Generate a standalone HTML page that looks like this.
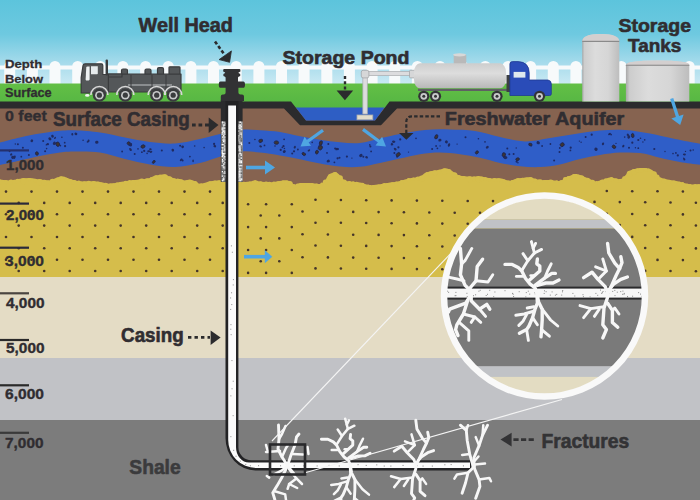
<!DOCTYPE html><html><head><meta charset="utf-8"><style>html,body{margin:0;padding:0;width:700px;height:500px;overflow:hidden;background:#7c7c7c}svg{display:block}text{font-family:"Liberation Sans",sans-serif;font-weight:bold;stroke-linejoin:round}</style></head><body>
<svg width="700" height="500" viewBox="0 0 700 500">
<defs>
<linearGradient id="sky" x1="0" y1="0" x2="0" y2="1"><stop offset="0" stop-color="#5cc4dc"/><stop offset="0.4" stop-color="#6ec9e0"/><stop offset="0.75" stop-color="#a9dcec"/><stop offset="1" stop-color="#cdebf4"/></linearGradient>
<linearGradient id="grass" x1="0" y1="0" x2="0" y2="1"><stop offset="0" stop-color="#63bf45"/><stop offset="1" stop-color="#52b443"/></linearGradient>
<linearGradient id="tank" x1="0" y1="0" x2="1" y2="0"><stop offset="0" stop-color="#a8a8a8"/><stop offset="0.06" stop-color="#cdcdcd"/><stop offset="0.35" stop-color="#dcdcdc"/><stop offset="0.7" stop-color="#d6d6d6"/><stop offset="1" stop-color="#bdbdbd"/></linearGradient>
<linearGradient id="tanker" x1="0" y1="0" x2="0" y2="1"><stop offset="0" stop-color="#cdcdcd"/><stop offset="0.4" stop-color="#dddddd"/><stop offset="1" stop-color="#b8b8b8"/></linearGradient>
<clipPath id="circ"><circle cx="544.5" cy="296" r="98"/></clipPath>
</defs>
<rect x="0" y="0" width="700" height="86" fill="url(#sky)"/>
<path d="M-18.4,86V66.5A5.5,5.5 0 0 1 -7.4,66.5V86ZM4.2,86V66.5A5.5,5.5 0 0 1 15.2,66.5V86ZM26.9,86V66.5A5.5,5.5 0 0 1 37.9,66.5V86ZM49.5,86V66.5A5.5,5.5 0 0 1 60.5,66.5V86ZM72.2,86V66.5A5.5,5.5 0 0 1 83.2,66.5V86ZM94.8,86V66.5A5.5,5.5 0 0 1 105.8,66.5V86ZM117.4,86V66.5A5.5,5.5 0 0 1 128.4,66.5V86ZM140.1,86V66.5A5.5,5.5 0 0 1 151.1,66.5V86ZM162.8,86V66.5A5.5,5.5 0 0 1 173.8,66.5V86ZM185.4,86V66.5A5.5,5.5 0 0 1 196.4,66.5V86ZM208.0,86V66.5A5.5,5.5 0 0 1 219.0,66.5V86ZM230.7,86V66.5A5.5,5.5 0 0 1 241.7,66.5V86ZM253.4,86V66.5A5.5,5.5 0 0 1 264.4,66.5V86ZM276.0,86V66.5A5.5,5.5 0 0 1 287.0,66.5V86ZM298.6,86V66.5A5.5,5.5 0 0 1 309.6,66.5V86ZM321.3,86V66.5A5.5,5.5 0 0 1 332.3,66.5V86ZM343.9,86V66.5A5.5,5.5 0 0 1 354.9,66.5V86ZM366.6,86V66.5A5.5,5.5 0 0 1 377.6,66.5V86ZM389.2,86V66.5A5.5,5.5 0 0 1 400.2,66.5V86ZM411.9,86V66.5A5.5,5.5 0 0 1 422.9,66.5V86ZM434.5,86V66.5A5.5,5.5 0 0 1 445.5,66.5V86ZM457.2,86V66.5A5.5,5.5 0 0 1 468.2,66.5V86ZM479.8,86V66.5A5.5,5.5 0 0 1 490.8,66.5V86ZM502.5,86V66.5A5.5,5.5 0 0 1 513.5,66.5V86ZM525.1,86V66.5A5.5,5.5 0 0 1 536.1,66.5V86ZM547.8,86V66.5A5.5,5.5 0 0 1 558.8,66.5V86ZM570.4,86V66.5A5.5,5.5 0 0 1 581.4,66.5V86ZM593.1,86V66.5A5.5,5.5 0 0 1 604.1,66.5V86ZM615.8,86V66.5A5.5,5.5 0 0 1 626.8,66.5V86ZM638.4,86V66.5A5.5,5.5 0 0 1 649.4,66.5V86ZM661.0,86V66.5A5.5,5.5 0 0 1 672.0,66.5V86ZM683.7,86V66.5A5.5,5.5 0 0 1 694.7,66.5V86ZM706.3,86V66.5A5.5,5.5 0 0 1 717.3,66.5V86Z" fill="#f7fafb"/>
<rect x="0" y="65.5" width="700" height="4" fill="#f7fafb"/>
<rect x="0" y="83.5" width="700" height="27" fill="url(#grass)"/>
<rect x="0" y="108" width="700" height="80" fill="#866350"/>
<rect x="0" y="277" width="700" height="81" fill="#e4dcc5"/>
<rect x="0" y="358" width="700" height="62" fill="#c1c2c6"/>
<rect x="0" y="420" width="700" height="80" fill="#7c7c7c"/>
<path d="M0,277 L0,179.6 C1.7,179.7 6.7,180.6 10.0,180.4 C13.3,180.2 16.7,179.1 20.0,178.7 C23.3,178.3 26.7,177.8 30.0,177.9 C33.3,178.1 36.7,179.2 40.0,179.6 C43.3,180.0 47.2,180.7 50.0,180.4 C52.8,180.1 54.8,178.2 57.0,177.6 C59.2,176.9 60.8,176.3 63.0,176.5 C65.2,176.7 67.2,178.2 70.0,179.0 C72.8,179.8 76.7,180.9 80.0,181.3 C83.3,181.7 86.7,181.2 90.0,181.3 C93.3,181.4 96.7,181.7 100.0,182.1 C103.3,182.5 106.7,183.9 110.0,183.9 C113.3,183.9 116.7,182.7 120.0,182.1 C123.3,181.5 126.7,180.8 130.0,180.4 C133.3,180.0 136.7,180.0 140.0,179.6 C143.3,179.2 147.5,178.6 150.0,177.9 C152.5,177.2 153.3,176.1 155.0,175.6 C156.7,175.1 158.3,175.1 160.0,174.9 C161.7,174.7 163.3,174.1 165.0,174.4 C166.7,174.7 168.3,176.0 170.0,176.7 C171.7,177.4 173.3,178.3 175.0,178.7 C176.7,179.1 178.3,178.7 180.0,179.0 C181.7,179.3 183.3,180.3 185.0,180.4 C186.7,180.5 188.3,179.4 190.0,179.6 C191.7,179.8 193.3,180.6 195.0,181.3 C196.7,182.0 198.3,183.6 200.0,183.9 C201.7,184.2 203.3,183.4 205.0,183.0 C206.7,182.6 207.5,181.7 210.0,181.3 C212.5,180.9 216.7,180.4 220.0,180.4 C223.3,180.4 226.7,181.2 230.0,181.5 C233.3,181.8 236.7,182.3 240.0,182.3 C243.3,182.3 247.5,181.8 250.0,181.4 C252.5,181.1 253.3,180.2 255.0,180.2 C256.7,180.2 257.5,181.1 260.0,181.4 C262.5,181.8 266.7,182.4 270.0,182.3 C273.3,182.2 277.5,181.2 280.0,180.9 C282.5,180.6 283.3,180.1 285.0,180.2 C286.7,180.3 288.3,180.6 290.0,181.4 C291.7,182.2 293.3,184.7 295.0,185.0 C296.7,185.3 297.5,183.4 300.0,183.1 C302.5,182.8 306.7,182.9 310.0,183.1 C313.3,183.2 317.5,184.4 320.0,184.0 C322.5,183.6 323.7,182.0 325.0,180.6 C326.3,179.2 326.8,176.7 328.0,175.4 C329.2,174.1 330.7,173.4 332.0,172.9 C333.3,172.4 334.7,171.9 336.0,172.3 C337.3,172.7 338.5,174.0 340.0,175.4 C341.5,176.8 343.3,179.6 345.0,180.6 C346.7,181.6 347.5,181.1 350.0,181.4 C352.5,181.7 356.7,181.9 360.0,182.5 C363.3,183.1 366.7,184.8 370.0,185.1 C373.3,185.4 376.7,184.7 380.0,184.3 C383.3,183.9 386.7,183.2 390.0,182.6 C393.3,182.0 396.7,181.6 400.0,180.9 C403.3,180.2 406.7,179.0 410.0,178.3 C413.3,177.6 417.5,177.5 420.0,176.6 C422.5,175.7 423.3,174.0 425.0,173.1 C426.7,172.2 428.0,171.9 430.0,171.4 C432.0,170.9 434.5,170.7 437.0,170.2 C439.5,169.7 442.8,168.6 445.0,168.5 C447.2,168.4 448.3,168.9 450.0,169.7 C451.7,170.5 453.3,172.1 455.0,173.1 C456.7,174.1 457.5,175.1 460.0,175.7 C462.5,176.3 466.7,176.4 470.0,176.6 C473.3,176.8 476.7,176.3 480.0,176.6 C483.3,176.9 486.7,178.0 490.0,178.3 C493.3,178.6 496.7,177.9 500.0,178.3 C503.3,178.7 507.5,180.8 510.0,180.9 C512.5,181.0 513.3,179.5 515.0,179.1 C516.7,178.7 517.5,178.6 520.0,178.3 C522.5,178.0 526.7,177.1 530.0,177.4 C533.3,177.7 536.7,179.6 540.0,180.0 C543.3,180.4 546.7,179.8 550.0,180.0 C553.3,180.2 557.5,181.3 560.0,180.9 C562.5,180.5 563.3,178.3 565.0,177.4 C566.7,176.5 568.3,176.3 570.0,175.7 C571.7,175.1 573.3,174.1 575.0,174.0 C576.7,173.9 577.5,174.1 580.0,174.9 C582.5,175.8 587.5,178.0 590.0,179.1 C592.5,180.2 592.5,181.7 595.0,181.7 C597.5,181.7 602.5,179.8 605.0,179.1 C607.5,178.4 607.5,177.4 610.0,177.4 C612.5,177.4 617.5,179.4 620.0,179.1 C622.5,178.8 623.3,177.1 625.0,175.7 C626.7,174.3 627.5,171.9 630.0,170.6 C632.5,169.3 636.7,168.3 640.0,168.0 C643.3,167.7 647.5,168.2 650.0,168.9 C652.5,169.6 653.3,170.9 655.0,172.3 C656.7,173.7 657.5,176.1 660.0,177.4 C662.5,178.7 666.7,179.3 670.0,180.0 C673.3,180.7 676.7,181.0 680.0,181.7 C683.3,182.4 686.7,183.9 690.0,184.3 C693.3,184.7 698.3,184.3 700.0,184.3 L700,277Z" fill="#d5bd4b"/>
<g fill="#d5bd4b"><circle cx="0.0" cy="182.0" r="2.4"/><circle cx="5.9" cy="182.1" r="2.1"/><circle cx="11.0" cy="182.3" r="2.7"/><circle cx="14.1" cy="181.9" r="2.2"/><circle cx="17.8" cy="181.1" r="2.4"/><circle cx="23.4" cy="181.1" r="3.1"/><circle cx="29.4" cy="179.6" r="1.7"/><circle cx="35.0" cy="180.5" r="1.8"/><circle cx="39.7" cy="182.1" r="3.1"/><circle cx="44.3" cy="182.8" r="3.0"/><circle cx="48.2" cy="182.0" r="1.7"/><circle cx="52.6" cy="181.9" r="3.2"/><circle cx="58.1" cy="180.4" r="2.9"/><circle cx="61.1" cy="178.5" r="2.2"/><circle cx="66.4" cy="180.0" r="2.2"/><circle cx="70.5" cy="182.0" r="2.8"/><circle cx="74.2" cy="182.6" r="2.5"/><circle cx="78.8" cy="182.8" r="2.2"/><circle cx="84.2" cy="183.1" r="1.9"/><circle cx="88.8" cy="183.3" r="2.5"/><circle cx="93.8" cy="184.2" r="3.1"/><circle cx="97.8" cy="184.7" r="3.1"/><circle cx="101.6" cy="184.0" r="1.6"/><circle cx="105.7" cy="185.1" r="2.3"/><circle cx="110.6" cy="186.1" r="2.8"/><circle cx="113.8" cy="186.5" r="3.2"/><circle cx="116.9" cy="185.1" r="2.5"/><circle cx="121.1" cy="184.8" r="2.8"/><circle cx="125.8" cy="182.9" r="2.2"/><circle cx="129.6" cy="181.9" r="1.8"/><circle cx="133.2" cy="182.8" r="2.9"/><circle cx="138.6" cy="182.8" r="3.1"/><circle cx="141.8" cy="181.7" r="3.1"/><circle cx="147.1" cy="181.2" r="2.9"/><circle cx="151.3" cy="178.6" r="1.7"/><circle cx="156.2" cy="177.2" r="2.0"/><circle cx="160.0" cy="176.5" r="1.9"/><circle cx="165.2" cy="176.6" r="2.4"/><circle cx="169.7" cy="178.8" r="2.5"/><circle cx="174.0" cy="181.4" r="3.1"/><circle cx="177.7" cy="180.6" r="2.1"/><circle cx="181.8" cy="181.1" r="1.6"/><circle cx="186.5" cy="182.5" r="2.3"/><circle cx="190.5" cy="182.4" r="2.5"/><circle cx="195.1" cy="183.6" r="2.6"/><circle cx="201.1" cy="186.1" r="2.8"/><circle cx="205.2" cy="185.2" r="2.5"/><circle cx="209.8" cy="183.1" r="1.9"/><circle cx="214.9" cy="183.4" r="2.8"/><circle cx="219.2" cy="182.7" r="2.4"/><circle cx="223.6" cy="182.1" r="1.6"/><circle cx="229.6" cy="184.1" r="2.9"/><circle cx="234.8" cy="183.5" r="1.9"/><circle cx="239.4" cy="184.3" r="2.7"/><circle cx="243.8" cy="184.8" r="3.0"/><circle cx="249.8" cy="183.2" r="1.8"/><circle cx="255.3" cy="181.8" r="1.6"/><circle cx="260.6" cy="183.3" r="2.0"/><circle cx="266.1" cy="184.5" r="2.9"/><circle cx="269.3" cy="184.2" r="2.5"/><circle cx="273.9" cy="183.5" r="2.0"/><circle cx="278.6" cy="184.1" r="2.9"/><circle cx="282.8" cy="182.1" r="1.6"/><circle cx="286.8" cy="183.4" r="2.8"/><circle cx="289.9" cy="183.7" r="2.8"/><circle cx="293.9" cy="186.1" r="2.1"/><circle cx="297.6" cy="186.0" r="2.4"/><circle cx="301.0" cy="185.0" r="2.0"/><circle cx="304.9" cy="184.8" r="1.9"/><circle cx="308.5" cy="186.2" r="3.2"/><circle cx="312.0" cy="185.1" r="2.1"/><circle cx="316.6" cy="185.7" r="2.2"/><circle cx="321.9" cy="184.4" r="1.8"/><circle cx="325.3" cy="182.1" r="2.5"/><circle cx="330.8" cy="176.8" r="3.0"/><circle cx="335.0" cy="174.5" r="2.6"/><circle cx="340.1" cy="178.0" r="2.8"/><circle cx="344.1" cy="182.4" r="2.8"/><circle cx="349.5" cy="183.0" r="2.1"/><circle cx="353.2" cy="183.2" r="1.9"/><circle cx="356.6" cy="184.2" r="2.4"/><circle cx="362.3" cy="184.9" r="2.2"/><circle cx="368.1" cy="186.1" r="1.7"/><circle cx="373.3" cy="187.0" r="2.1"/><circle cx="378.6" cy="186.5" r="2.1"/><circle cx="384.3" cy="185.5" r="2.4"/><circle cx="387.7" cy="186.0" r="2.9"/><circle cx="392.6" cy="185.0" r="2.8"/><circle cx="396.3" cy="183.5" r="1.9"/><circle cx="401.8" cy="182.3" r="2.3"/><circle cx="405.1" cy="181.9" r="2.2"/><circle cx="408.7" cy="180.2" r="2.1"/><circle cx="413.4" cy="179.3" r="1.7"/><circle cx="417.9" cy="178.8" r="2.3"/><circle cx="421.8" cy="178.5" r="3.0"/><circle cx="427.0" cy="174.0" r="1.9"/><circle cx="431.1" cy="174.3" r="3.0"/><circle cx="434.8" cy="172.8" r="2.6"/><circle cx="439.2" cy="171.6" r="1.9"/><circle cx="444.5" cy="171.4" r="3.1"/><circle cx="448.9" cy="171.5" r="2.6"/><circle cx="454.5" cy="175.1" r="2.8"/><circle cx="458.7" cy="177.4" r="2.4"/><circle cx="463.8" cy="178.1" r="2.0"/><circle cx="469.6" cy="179.2" r="3.0"/><circle cx="474.0" cy="178.9" r="2.3"/><circle cx="478.4" cy="179.1" r="3.1"/><circle cx="481.5" cy="178.8" r="2.4"/><circle cx="485.3" cy="178.8" r="1.7"/><circle cx="489.6" cy="179.7" r="1.7"/><circle cx="494.4" cy="180.0" r="2.0"/><circle cx="498.6" cy="180.2" r="2.0"/><circle cx="503.9" cy="180.8" r="1.6"/><circle cx="508.5" cy="183.5" r="3.1"/><circle cx="512.3" cy="182.7" r="2.6"/><circle cx="518.2" cy="180.8" r="2.8"/><circle cx="522.3" cy="180.1" r="2.4"/><circle cx="527.6" cy="180.1" r="2.4"/><circle cx="530.6" cy="179.8" r="2.9"/><circle cx="535.2" cy="180.3" r="1.8"/><circle cx="540.0" cy="182.4" r="3.1"/><circle cx="544.2" cy="181.7" r="1.8"/><circle cx="547.6" cy="181.9" r="1.9"/><circle cx="550.7" cy="182.6" r="3.0"/><circle cx="556.7" cy="182.0" r="1.8"/><circle cx="561.2" cy="182.1" r="2.1"/><circle cx="565.1" cy="179.0" r="2.1"/><circle cx="568.3" cy="177.7" r="1.6"/><circle cx="574.0" cy="176.4" r="2.5"/><circle cx="578.3" cy="177.5" r="2.8"/><circle cx="581.6" cy="177.8" r="2.6"/><circle cx="587.4" cy="180.6" r="2.8"/><circle cx="592.4" cy="182.5" r="2.8"/><circle cx="596.4" cy="182.7" r="1.7"/><circle cx="602.2" cy="181.9" r="2.5"/><circle cx="606.0" cy="180.5" r="2.3"/><circle cx="611.5" cy="179.3" r="2.2"/><circle cx="616.0" cy="180.6" r="2.3"/><circle cx="619.8" cy="180.9" r="2.0"/><circle cx="624.0" cy="178.1" r="1.8"/><circle cx="629.6" cy="173.7" r="2.9"/><circle cx="634.0" cy="171.9" r="2.9"/><circle cx="637.3" cy="170.4" r="1.9"/><circle cx="641.0" cy="170.4" r="2.3"/><circle cx="645.8" cy="170.0" r="1.9"/><circle cx="648.8" cy="170.2" r="1.7"/><circle cx="654.0" cy="174.1" r="2.9"/><circle cx="657.1" cy="177.0" r="2.5"/><circle cx="660.2" cy="180.2" r="2.6"/><circle cx="664.1" cy="181.0" r="2.5"/><circle cx="669.1" cy="181.6" r="1.9"/><circle cx="673.9" cy="183.1" r="2.7"/><circle cx="679.4" cy="184.2" r="2.5"/><circle cx="682.7" cy="183.7" r="1.6"/><circle cx="687.2" cy="186.4" r="2.7"/><circle cx="690.2" cy="185.7" r="1.6"/><circle cx="695.2" cy="186.2" r="2.2"/><circle cx="698.8" cy="186.9" r="2.7"/></g>
<g fill="#45352a"><circle cx="6.0" cy="191.6" r="1.3"/><circle cx="18.7" cy="202.9" r="1.3"/><circle cx="31.5" cy="191.6" r="1.3"/><circle cx="44.2" cy="202.9" r="1.3"/><circle cx="57.0" cy="191.6" r="1.3"/><circle cx="69.7" cy="202.9" r="1.3"/><circle cx="82.5" cy="191.6" r="1.3"/><circle cx="95.2" cy="202.9" r="1.3"/><circle cx="108.0" cy="191.6" r="1.3"/><circle cx="120.7" cy="202.9" r="1.3"/><circle cx="133.5" cy="191.6" r="1.3"/><circle cx="146.2" cy="202.9" r="1.3"/><circle cx="159.0" cy="191.6" r="1.3"/><circle cx="171.7" cy="202.9" r="1.3"/><circle cx="184.5" cy="191.6" r="1.3"/><circle cx="197.2" cy="202.9" r="1.3"/><circle cx="210.0" cy="191.6" r="1.3"/><circle cx="222.7" cy="202.9" r="1.3"/><circle cx="6.0" cy="214.3" r="1.3"/><circle cx="18.7" cy="225.6" r="1.3"/><circle cx="31.5" cy="214.3" r="1.3"/><circle cx="44.2" cy="225.6" r="1.3"/><circle cx="57.0" cy="214.3" r="1.3"/><circle cx="69.7" cy="225.6" r="1.3"/><circle cx="82.5" cy="214.3" r="1.3"/><circle cx="95.2" cy="225.6" r="1.3"/><circle cx="108.0" cy="214.3" r="1.3"/><circle cx="120.7" cy="225.6" r="1.3"/><circle cx="133.5" cy="214.3" r="1.3"/><circle cx="146.2" cy="225.6" r="1.3"/><circle cx="159.0" cy="214.3" r="1.3"/><circle cx="171.7" cy="225.6" r="1.3"/><circle cx="184.5" cy="214.3" r="1.3"/><circle cx="197.2" cy="225.6" r="1.3"/><circle cx="210.0" cy="214.3" r="1.3"/><circle cx="222.7" cy="225.6" r="1.3"/><circle cx="6.0" cy="237.0" r="1.3"/><circle cx="18.7" cy="248.3" r="1.3"/><circle cx="31.5" cy="237.0" r="1.3"/><circle cx="44.2" cy="248.3" r="1.3"/><circle cx="57.0" cy="237.0" r="1.3"/><circle cx="69.7" cy="248.3" r="1.3"/><circle cx="82.5" cy="237.0" r="1.3"/><circle cx="95.2" cy="248.3" r="1.3"/><circle cx="108.0" cy="237.0" r="1.3"/><circle cx="120.7" cy="248.3" r="1.3"/><circle cx="133.5" cy="237.0" r="1.3"/><circle cx="146.2" cy="248.3" r="1.3"/><circle cx="159.0" cy="237.0" r="1.3"/><circle cx="171.7" cy="248.3" r="1.3"/><circle cx="184.5" cy="237.0" r="1.3"/><circle cx="197.2" cy="248.3" r="1.3"/><circle cx="210.0" cy="237.0" r="1.3"/><circle cx="222.7" cy="248.3" r="1.3"/><circle cx="6.0" cy="259.7" r="1.3"/><circle cx="18.7" cy="271.0" r="1.3"/><circle cx="31.5" cy="259.7" r="1.3"/><circle cx="44.2" cy="271.0" r="1.3"/><circle cx="57.0" cy="259.7" r="1.3"/><circle cx="69.7" cy="271.0" r="1.3"/><circle cx="82.5" cy="259.7" r="1.3"/><circle cx="95.2" cy="271.0" r="1.3"/><circle cx="108.0" cy="259.7" r="1.3"/><circle cx="120.7" cy="271.0" r="1.3"/><circle cx="133.5" cy="259.7" r="1.3"/><circle cx="146.2" cy="271.0" r="1.3"/><circle cx="159.0" cy="259.7" r="1.3"/><circle cx="171.7" cy="271.0" r="1.3"/><circle cx="184.5" cy="259.7" r="1.3"/><circle cx="197.2" cy="271.0" r="1.3"/><circle cx="210.0" cy="259.7" r="1.3"/><circle cx="222.7" cy="271.0" r="1.3"/><circle cx="248.1" cy="204.2" r="1.3"/><circle cx="266.1" cy="204.2" r="1.3"/><circle cx="291.8" cy="204.2" r="1.3"/><circle cx="248.1" cy="227.1" r="1.3"/><circle cx="266.1" cy="227.1" r="1.3"/><circle cx="291.8" cy="227.1" r="1.3"/><circle cx="248.1" cy="250.0" r="1.3"/><circle cx="266.1" cy="250.0" r="1.3"/><circle cx="291.8" cy="250.0" r="1.3"/><circle cx="248.1" cy="272.9" r="1.3"/><circle cx="266.1" cy="272.9" r="1.3"/><circle cx="291.8" cy="272.9" r="1.3"/><circle cx="260.7" cy="215.5" r="1.3"/><circle cx="279.3" cy="215.5" r="1.3"/><circle cx="260.7" cy="238.4" r="1.3"/><circle cx="279.3" cy="238.4" r="1.3"/><circle cx="260.7" cy="261.3" r="1.3"/><circle cx="279.3" cy="261.3" r="1.3"/><circle cx="606.8" cy="191.0" r="1.3"/><circle cx="632.2" cy="191.2" r="1.3"/><circle cx="657.5" cy="191.3" r="1.3"/><circle cx="682.9" cy="191.5" r="1.3"/><circle cx="315.5" cy="199.8" r="1.3"/><circle cx="302.5" cy="211.5" r="1.3"/><circle cx="340.9" cy="200.0" r="1.3"/><circle cx="327.9" cy="211.7" r="1.3"/><circle cx="366.2" cy="200.2" r="1.3"/><circle cx="353.2" cy="211.9" r="1.3"/><circle cx="391.6" cy="200.4" r="1.3"/><circle cx="378.6" cy="212.1" r="1.3"/><circle cx="416.9" cy="200.6" r="1.3"/><circle cx="403.9" cy="212.3" r="1.3"/><circle cx="442.3" cy="200.8" r="1.3"/><circle cx="429.3" cy="212.5" r="1.3"/><circle cx="467.7" cy="201.0" r="1.3"/><circle cx="454.7" cy="212.7" r="1.3"/><circle cx="493.0" cy="201.1" r="1.3"/><circle cx="480.0" cy="212.8" r="1.3"/><circle cx="518.4" cy="201.3" r="1.3"/><circle cx="505.4" cy="213.0" r="1.3"/><circle cx="543.7" cy="201.5" r="1.3"/><circle cx="530.7" cy="213.2" r="1.3"/><circle cx="569.1" cy="201.7" r="1.3"/><circle cx="556.1" cy="213.4" r="1.3"/><circle cx="594.5" cy="201.9" r="1.3"/><circle cx="581.5" cy="213.6" r="1.3"/><circle cx="619.8" cy="202.1" r="1.3"/><circle cx="606.8" cy="213.8" r="1.3"/><circle cx="645.2" cy="202.3" r="1.3"/><circle cx="632.2" cy="214.0" r="1.3"/><circle cx="670.5" cy="202.5" r="1.3"/><circle cx="657.5" cy="214.2" r="1.3"/><circle cx="695.9" cy="202.7" r="1.3"/><circle cx="682.9" cy="214.4" r="1.3"/><circle cx="315.5" cy="222.7" r="1.3"/><circle cx="302.5" cy="234.3" r="1.3"/><circle cx="340.9" cy="222.8" r="1.3"/><circle cx="327.9" cy="234.5" r="1.3"/><circle cx="366.2" cy="223.0" r="1.3"/><circle cx="353.2" cy="234.7" r="1.3"/><circle cx="391.6" cy="223.2" r="1.3"/><circle cx="378.6" cy="234.9" r="1.3"/><circle cx="416.9" cy="223.4" r="1.3"/><circle cx="403.9" cy="235.1" r="1.3"/><circle cx="442.3" cy="223.6" r="1.3"/><circle cx="429.3" cy="235.3" r="1.3"/><circle cx="467.7" cy="223.8" r="1.3"/><circle cx="454.7" cy="235.5" r="1.3"/><circle cx="493.0" cy="224.0" r="1.3"/><circle cx="480.0" cy="235.7" r="1.3"/><circle cx="518.4" cy="224.2" r="1.3"/><circle cx="505.4" cy="235.9" r="1.3"/><circle cx="543.7" cy="224.4" r="1.3"/><circle cx="530.7" cy="236.1" r="1.3"/><circle cx="569.1" cy="224.6" r="1.3"/><circle cx="556.1" cy="236.3" r="1.3"/><circle cx="594.5" cy="224.8" r="1.3"/><circle cx="581.5" cy="236.5" r="1.3"/><circle cx="619.8" cy="225.0" r="1.3"/><circle cx="606.8" cy="236.7" r="1.3"/><circle cx="645.2" cy="225.2" r="1.3"/><circle cx="632.2" cy="236.9" r="1.3"/><circle cx="670.5" cy="225.3" r="1.3"/><circle cx="657.5" cy="237.0" r="1.3"/><circle cx="695.9" cy="225.5" r="1.3"/><circle cx="682.9" cy="237.2" r="1.3"/><circle cx="315.5" cy="245.5" r="1.3"/><circle cx="302.5" cy="257.2" r="1.3"/><circle cx="340.9" cy="245.7" r="1.3"/><circle cx="327.9" cy="257.4" r="1.3"/><circle cx="366.2" cy="245.9" r="1.3"/><circle cx="353.2" cy="257.6" r="1.3"/><circle cx="391.6" cy="246.1" r="1.3"/><circle cx="378.6" cy="257.8" r="1.3"/><circle cx="416.9" cy="246.3" r="1.3"/><circle cx="403.9" cy="258.0" r="1.3"/><circle cx="442.3" cy="246.5" r="1.3"/><circle cx="429.3" cy="258.2" r="1.3"/><circle cx="467.7" cy="246.7" r="1.3"/><circle cx="454.7" cy="258.4" r="1.3"/><circle cx="493.0" cy="246.8" r="1.3"/><circle cx="480.0" cy="258.5" r="1.3"/><circle cx="518.4" cy="247.0" r="1.3"/><circle cx="505.4" cy="258.7" r="1.3"/><circle cx="543.7" cy="247.2" r="1.3"/><circle cx="530.7" cy="258.9" r="1.3"/><circle cx="569.1" cy="247.4" r="1.3"/><circle cx="556.1" cy="259.1" r="1.3"/><circle cx="594.5" cy="247.6" r="1.3"/><circle cx="581.5" cy="259.3" r="1.3"/><circle cx="619.8" cy="247.8" r="1.3"/><circle cx="606.8" cy="259.5" r="1.3"/><circle cx="645.2" cy="248.0" r="1.3"/><circle cx="632.2" cy="259.7" r="1.3"/><circle cx="670.5" cy="248.2" r="1.3"/><circle cx="657.5" cy="259.9" r="1.3"/><circle cx="695.9" cy="248.4" r="1.3"/><circle cx="682.9" cy="260.1" r="1.3"/><circle cx="315.5" cy="268.4" r="1.3"/><circle cx="340.9" cy="268.5" r="1.3"/><circle cx="366.2" cy="268.7" r="1.3"/><circle cx="391.6" cy="268.9" r="1.3"/><circle cx="416.9" cy="269.1" r="1.3"/><circle cx="442.3" cy="269.3" r="1.3"/><circle cx="467.7" cy="269.5" r="1.3"/><circle cx="493.0" cy="269.7" r="1.3"/><circle cx="518.4" cy="269.9" r="1.3"/><circle cx="543.7" cy="270.1" r="1.3"/><circle cx="569.1" cy="270.3" r="1.3"/><circle cx="594.5" cy="270.5" r="1.3"/><circle cx="619.8" cy="270.7" r="1.3"/><circle cx="645.2" cy="270.9" r="1.3"/><circle cx="670.5" cy="271.0" r="1.3"/><circle cx="695.9" cy="271.2" r="1.3"/></g>
<path d="M-2,143 C1.7,142.1 13.0,139.1 20.0,137.5 C27.0,135.9 33.3,134.6 40.0,133.5 C46.7,132.4 54.2,131.3 60.0,130.8 C65.8,130.3 68.3,130.0 75.0,130.3 C81.7,130.6 91.7,131.3 100.0,132.5 C108.3,133.7 116.7,135.9 125.0,137.5 C133.3,139.1 141.7,141.0 150.0,142.0 C158.3,143.0 166.7,144.0 175.0,143.5 C183.3,143.0 192.5,140.6 200.0,139.0 C207.5,137.4 213.0,135.5 220.0,134.0 C227.0,132.5 235.3,130.4 242.0,129.8 C248.7,129.2 253.7,129.9 260.0,130.3 C266.3,130.7 273.3,131.0 280.0,132.0 C286.7,133.0 293.3,135.0 300.0,136.3 C306.7,137.6 313.3,138.7 320.0,139.7 C326.7,140.7 333.3,141.8 340.0,142.3 C346.7,142.9 353.3,143.6 360.0,143.0 C366.7,142.4 373.3,140.0 380.0,138.5 C386.7,137.0 392.5,135.4 400.0,134.0 C407.5,132.6 416.7,130.8 425.0,130.0 C433.3,129.2 441.7,129.3 450.0,129.5 C458.3,129.7 466.7,129.8 475.0,131.0 C483.3,132.2 491.7,135.2 500.0,137.0 C508.3,138.8 516.7,141.3 525.0,141.5 C533.3,141.7 541.7,139.2 550.0,138.0 C558.3,136.8 566.7,135.2 575.0,134.0 C583.3,132.8 591.7,131.2 600.0,130.5 C608.3,129.8 616.7,129.5 625.0,130.0 C633.3,130.5 641.7,132.0 650.0,133.5 C658.3,135.0 666.3,137.2 675.0,139.0 C683.7,140.8 697.5,143.2 702.0,144.0 L702,165 C698.3,164.5 687.0,163.2 680.0,162.0 C673.0,160.8 666.7,159.2 660.0,157.7 C653.3,156.2 646.7,153.8 640.0,153.0 C633.3,152.2 626.7,152.3 620.0,152.6 C613.3,152.9 606.7,153.9 600.0,155.0 C593.3,156.1 586.7,157.4 580.0,159.0 C573.3,160.6 566.7,163.2 560.0,164.6 C553.3,165.9 546.7,166.8 540.0,167.1 C533.3,167.4 526.7,167.0 520.0,166.3 C513.3,165.6 506.7,164.3 500.0,162.9 C493.3,161.5 486.7,159.1 480.0,157.7 C473.3,156.3 466.7,155.2 460.0,154.3 C453.3,153.5 446.7,152.6 440.0,152.6 C433.3,152.6 426.7,153.3 420.0,154.3 C413.3,155.3 406.7,157.2 400.0,158.6 C393.3,160.0 386.7,161.6 380.0,163.0 C373.3,164.4 366.7,166.2 360.0,166.8 C353.3,167.4 346.7,167.1 340.0,166.6 C333.3,166.1 326.7,164.8 320.0,163.6 C313.3,162.4 306.7,160.7 300.0,159.3 C293.3,157.9 286.7,156.5 280.0,155.4 C273.3,154.3 266.3,153.2 260.0,152.6 C253.7,151.9 248.3,150.9 242.0,151.5 C235.7,152.1 229.0,154.1 222.0,156.0 C215.0,157.9 207.8,161.2 200.0,163.0 C192.2,164.8 183.3,166.8 175.0,167.0 C166.7,167.2 158.3,165.8 150.0,164.5 C141.7,163.2 133.3,161.0 125.0,159.0 C116.7,157.0 108.3,153.8 100.0,152.5 C91.7,151.2 81.7,151.5 75.0,151.5 C68.3,151.5 65.8,151.8 60.0,152.5 C54.2,153.2 46.7,154.7 40.0,156.0 C33.3,157.3 27.0,158.9 20.0,160.5 C13.0,162.1 1.7,164.7 -2.0,165.5Z" fill="#2f5ec8"/>
<ellipse cx="316.9" cy="152.1" rx="1.9" ry="1.4" transform="rotate(106 316.9 152.1)" fill="#3e3632" stroke="#1f2550" stroke-width="0.9"/><ellipse cx="130.5" cy="149.5" rx="1.7" ry="1.1" transform="rotate(55 130.5 149.5)" fill="#1f2b62"/><ellipse cx="65.1" cy="146.2" rx="1.1" ry="1.1" transform="rotate(174 65.1 146.2)" fill="#1f2b62"/><circle cx="457.1" cy="144.1" r="0.7" fill="#1d2a66"/><circle cx="369.8" cy="144.9" r="0.8" fill="#1d2a66"/><circle cx="22.9" cy="147.8" r="1.0" fill="#1d2a66"/><circle cx="363.3" cy="156.7" r="1.0" fill="#1d2a66"/><ellipse cx="320.3" cy="147.7" rx="2.3" ry="2.0" transform="rotate(127 320.3 147.7)" fill="#3e3632" stroke="#1f2550" stroke-width="0.9"/><circle cx="161.8" cy="150.6" r="1.0" fill="#1d2a66"/><circle cx="280.7" cy="149.9" r="1.1" fill="#1d2a66"/><circle cx="591.7" cy="134.7" r="1.1" fill="#1d2a66"/><circle cx="329.1" cy="161.6" r="0.7" fill="#1d2a66"/><circle cx="440.1" cy="145.9" r="0.7" fill="#1d2a66"/><circle cx="673.0" cy="153.6" r="0.8" fill="#1d2a66"/><ellipse cx="72.3" cy="134.3" rx="1.2" ry="1.0" transform="rotate(81 72.3 134.3)" fill="#1f2b62"/><circle cx="134.7" cy="153.9" r="1.0" fill="#1d2a66"/><circle cx="83.1" cy="140.2" r="0.8" fill="#1d2a66"/><circle cx="677.8" cy="155.4" r="1.1" fill="#1d2a66"/><ellipse cx="148.7" cy="151.2" rx="1.5" ry="1.0" transform="rotate(178 148.7 151.2)" fill="#1f2b62"/><ellipse cx="150.4" cy="149.3" rx="1.3" ry="1.0" transform="rotate(13 150.4 149.3)" fill="#1f2b62"/><circle cx="64.7" cy="142.7" r="0.9" fill="#1d2a66"/><ellipse cx="260.7" cy="140.8" rx="1.9" ry="1.5" transform="rotate(156 260.7 140.8)" fill="#3e3632" stroke="#1f2550" stroke-width="0.9"/><ellipse cx="129.2" cy="143.7" rx="2.2" ry="1.5" transform="rotate(34 129.2 143.7)" fill="#3e3632" stroke="#1f2550" stroke-width="0.9"/><circle cx="516.6" cy="161.6" r="1.1" fill="#1d2a66"/><circle cx="616.0" cy="143.4" r="0.7" fill="#1d2a66"/><circle cx="28.9" cy="154.9" r="1.0" fill="#1d2a66"/><ellipse cx="180.9" cy="160.0" rx="1.3" ry="0.9" transform="rotate(130 180.9 160.0)" fill="#1f2b62"/><ellipse cx="49.9" cy="138.8" rx="1.7" ry="1.4" transform="rotate(50 49.9 138.8)" fill="#1f2b62"/><circle cx="640.5" cy="138.2" r="0.8" fill="#1d2a66"/><circle cx="312.2" cy="142.4" r="0.8" fill="#1d2a66"/><circle cx="400.2" cy="139.4" r="1.1" fill="#1d2a66"/><ellipse cx="684.4" cy="154.4" rx="1.5" ry="1.0" transform="rotate(6 684.4 154.4)" fill="#1f2b62"/><ellipse cx="14.5" cy="157.2" rx="1.8" ry="1.1" transform="rotate(115 14.5 157.2)" fill="#1f2b62"/><circle cx="337.6" cy="158.3" r="1.1" fill="#1d2a66"/><ellipse cx="54.4" cy="143.3" rx="1.7" ry="1.5" transform="rotate(127 54.4 143.3)" fill="#1f2b62"/><circle cx="554.1" cy="160.5" r="1.0" fill="#1d2a66"/><circle cx="629.0" cy="147.7" r="1.0" fill="#1d2a66"/><ellipse cx="603.0" cy="143.9" rx="1.4" ry="1.1" transform="rotate(110 603.0 143.9)" fill="#1f2b62"/><ellipse cx="57.8" cy="144.2" rx="2.2" ry="1.8" transform="rotate(70 57.8 144.2)" fill="#3e3632" stroke="#1f2550" stroke-width="0.9"/><circle cx="513.6" cy="153.9" r="1.0" fill="#1d2a66"/><circle cx="60.3" cy="145.6" r="0.9" fill="#1d2a66"/><ellipse cx="336.7" cy="149.1" rx="1.4" ry="1.2" transform="rotate(166 336.7 149.1)" fill="#1f2b62"/><circle cx="180.1" cy="145.8" r="1.0" fill="#1d2a66"/><ellipse cx="143.0" cy="146.5" rx="2.1" ry="1.5" transform="rotate(161 143.0 146.5)" fill="#3e3632" stroke="#1f2550" stroke-width="0.9"/><circle cx="465.5" cy="137.2" r="1.0" fill="#1d2a66"/><circle cx="638.3" cy="148.2" r="0.9" fill="#1d2a66"/><ellipse cx="96.8" cy="142.2" rx="1.7" ry="1.5" transform="rotate(171 96.8 142.2)" fill="#1f2b62"/><circle cx="194.7" cy="146.0" r="0.8" fill="#1d2a66"/><ellipse cx="151.0" cy="151.9" rx="1.4" ry="1.0" transform="rotate(151 151.0 151.9)" fill="#1f2b62"/><circle cx="685.5" cy="151.4" r="0.7" fill="#1d2a66"/><ellipse cx="609.5" cy="134.0" rx="1.5" ry="1.1" transform="rotate(142 609.5 134.0)" fill="#1f2b62"/><circle cx="15.3" cy="144.0" r="0.7" fill="#1d2a66"/><circle cx="579.4" cy="141.1" r="0.7" fill="#1d2a66"/><ellipse cx="439.9" cy="140.2" rx="1.6" ry="1.4" transform="rotate(173 439.9 140.2)" fill="#1f2b62"/><circle cx="478.4" cy="138.7" r="0.8" fill="#1d2a66"/><ellipse cx="9.5" cy="151.0" rx="1.2" ry="0.9" transform="rotate(62 9.5 151.0)" fill="#1f2b62"/><ellipse cx="487.3" cy="147.2" rx="1.6" ry="1.2" transform="rotate(143 487.3 147.2)" fill="#1f2b62"/><ellipse cx="632.7" cy="135.5" rx="2.1" ry="1.3" transform="rotate(82 632.7 135.5)" fill="#3e3632" stroke="#1f2550" stroke-width="0.9"/><circle cx="437.4" cy="148.3" r="0.9" fill="#1d2a66"/><ellipse cx="614.0" cy="146.8" rx="1.9" ry="1.5" transform="rotate(37 614.0 146.8)" fill="#3e3632" stroke="#1f2550" stroke-width="0.9"/><ellipse cx="504.5" cy="157.1" rx="1.6" ry="1.1" transform="rotate(162 504.5 157.1)" fill="#1f2b62"/><circle cx="684.4" cy="159.6" r="1.0" fill="#1d2a66"/><circle cx="635.4" cy="147.7" r="0.7" fill="#1d2a66"/><ellipse cx="308.9" cy="150.4" rx="1.4" ry="0.9" transform="rotate(146 308.9 150.4)" fill="#1f2b62"/><circle cx="46.6" cy="148.6" r="0.8" fill="#1d2a66"/><circle cx="550.4" cy="144.0" r="0.9" fill="#1d2a66"/><ellipse cx="505.6" cy="157.7" rx="1.8" ry="1.4" transform="rotate(171 505.6 157.7)" fill="#1f2b62"/><circle cx="61.9" cy="137.2" r="0.8" fill="#1d2a66"/><circle cx="509.3" cy="154.3" r="1.0" fill="#1d2a66"/><circle cx="391.7" cy="144.6" r="1.0" fill="#1d2a66"/><ellipse cx="628.8" cy="136.9" rx="1.8" ry="1.4" transform="rotate(103 628.8 136.9)" fill="#1f2b62"/><circle cx="141.9" cy="152.2" r="0.9" fill="#1d2a66"/><circle cx="21.3" cy="156.7" r="0.9" fill="#1d2a66"/><circle cx="559.5" cy="152.0" r="1.0" fill="#1d2a66"/><circle cx="47.9" cy="144.2" r="1.1" fill="#1d2a66"/><circle cx="644.7" cy="139.9" r="0.8" fill="#1d2a66"/><ellipse cx="303.8" cy="154.0" rx="1.9" ry="1.3" transform="rotate(34 303.8 154.0)" fill="#3e3632" stroke="#1f2550" stroke-width="0.9"/><circle cx="432.1" cy="149.0" r="1.0" fill="#1d2a66"/><circle cx="17.9" cy="144.3" r="1.0" fill="#1d2a66"/><circle cx="249.3" cy="142.9" r="1.0" fill="#1d2a66"/><circle cx="87.5" cy="141.9" r="0.8" fill="#1d2a66"/><circle cx="371.1" cy="151.4" r="0.9" fill="#1d2a66"/><circle cx="370.4" cy="146.6" r="1.0" fill="#1d2a66"/><ellipse cx="446.4" cy="141.9" rx="1.5" ry="1.4" transform="rotate(42 446.4 141.9)" fill="#1f2b62"/><ellipse cx="517.6" cy="159.2" rx="1.8" ry="1.3" transform="rotate(166 517.6 159.2)" fill="#3e3632" stroke="#1f2550" stroke-width="0.9"/><ellipse cx="153.8" cy="161.9" rx="1.7" ry="1.1" transform="rotate(131 153.8 161.9)" fill="#3e3632" stroke="#1f2550" stroke-width="0.9"/><ellipse cx="182.6" cy="146.8" rx="1.4" ry="1.3" transform="rotate(23 182.6 146.8)" fill="#1f2b62"/><circle cx="282.3" cy="147.4" r="0.8" fill="#1d2a66"/><ellipse cx="476.9" cy="152.4" rx="1.7" ry="1.3" transform="rotate(136 476.9 152.4)" fill="#3e3632" stroke="#1f2550" stroke-width="0.9"/><circle cx="351.9" cy="158.1" r="0.7" fill="#1d2a66"/><ellipse cx="75.9" cy="133.9" rx="1.5" ry="1.2" transform="rotate(26 75.9 133.9)" fill="#1f2b62"/><ellipse cx="130.4" cy="144.7" rx="1.8" ry="1.7" transform="rotate(17 130.4 144.7)" fill="#1f2b62"/><circle cx="45.1" cy="151.3" r="1.0" fill="#1d2a66"/><circle cx="327.0" cy="152.9" r="0.9" fill="#1d2a66"/><ellipse cx="11.2" cy="154.5" rx="1.2" ry="1.0" transform="rotate(133 11.2 154.5)" fill="#1f2b62"/><circle cx="284.1" cy="139.3" r="0.9" fill="#1d2a66"/><ellipse cx="12.7" cy="157.3" rx="1.6" ry="1.5" transform="rotate(113 12.7 157.3)" fill="#1f2b62"/><circle cx="283.5" cy="146.2" r="1.1" fill="#1d2a66"/><ellipse cx="562.2" cy="144.7" rx="2.1" ry="1.8" transform="rotate(147 562.2 144.7)" fill="#3e3632" stroke="#1f2550" stroke-width="0.9"/><ellipse cx="284.3" cy="151.5" rx="1.6" ry="1.4" transform="rotate(138 284.3 151.5)" fill="#1f2b62"/><circle cx="284.4" cy="148.5" r="0.8" fill="#1d2a66"/><circle cx="328.3" cy="144.0" r="1.0" fill="#1d2a66"/><ellipse cx="436.3" cy="136.8" rx="2.1" ry="1.4" transform="rotate(119 436.3 136.8)" fill="#3e3632" stroke="#1f2550" stroke-width="0.9"/><circle cx="398.4" cy="147.3" r="1.1" fill="#1d2a66"/><ellipse cx="449.0" cy="145.0" rx="1.8" ry="1.1" transform="rotate(111 449.0 145.0)" fill="#1f2b62"/><circle cx="516.2" cy="148.0" r="0.7" fill="#1d2a66"/><circle cx="138.0" cy="148.9" r="0.8" fill="#1d2a66"/><circle cx="632.3" cy="142.7" r="1.1" fill="#1d2a66"/><ellipse cx="397.3" cy="156.1" rx="1.7" ry="1.1" transform="rotate(108 397.3 156.1)" fill="#1f2b62"/><ellipse cx="530.4" cy="144.6" rx="1.7" ry="1.3" transform="rotate(30 530.4 144.6)" fill="#3e3632" stroke="#1f2550" stroke-width="0.9"/><circle cx="346.9" cy="156.6" r="1.1" fill="#1d2a66"/><ellipse cx="294.8" cy="147.2" rx="1.4" ry="1.0" transform="rotate(118 294.8 147.2)" fill="#1f2b62"/><ellipse cx="392.2" cy="144.0" rx="1.3" ry="0.8" transform="rotate(44 392.2 144.0)" fill="#1f2b62"/><ellipse cx="31.8" cy="140.8" rx="1.4" ry="1.3" transform="rotate(135 31.8 140.8)" fill="#1f2b62"/><ellipse cx="36.9" cy="153.5" rx="1.7" ry="1.4" transform="rotate(77 36.9 153.5)" fill="#3e3632" stroke="#1f2550" stroke-width="0.9"/><circle cx="334.4" cy="162.3" r="0.9" fill="#1d2a66"/><circle cx="654.3" cy="149.0" r="1.1" fill="#1d2a66"/><circle cx="570.4" cy="150.4" r="0.9" fill="#1d2a66"/><circle cx="319.2" cy="146.2" r="0.9" fill="#1d2a66"/><ellipse cx="88.5" cy="140.9" rx="1.4" ry="1.0" transform="rotate(105 88.5 140.9)" fill="#1f2b62"/><circle cx="294.0" cy="151.3" r="1.1" fill="#1d2a66"/><circle cx="665.0" cy="151.5" r="0.7" fill="#1d2a66"/><ellipse cx="623.3" cy="146.1" rx="1.4" ry="1.0" transform="rotate(123 623.3 146.1)" fill="#1f2b62"/><ellipse cx="395.2" cy="149.1" rx="1.6" ry="1.1" transform="rotate(45 395.2 149.1)" fill="#1f2b62"/><ellipse cx="683.9" cy="158.5" rx="1.1" ry="0.7" transform="rotate(49 683.9 158.5)" fill="#1f2b62"/><circle cx="297.9" cy="149.5" r="0.9" fill="#1d2a66"/><ellipse cx="52.5" cy="136.2" rx="1.5" ry="1.3" transform="rotate(67 52.5 136.2)" fill="#1f2b62"/><circle cx="335.1" cy="148.5" r="1.0" fill="#1d2a66"/><circle cx="585.6" cy="137.0" r="1.0" fill="#1d2a66"/><circle cx="436.1" cy="146.0" r="0.9" fill="#1d2a66"/><circle cx="181.6" cy="159.6" r="1.0" fill="#1d2a66"/><circle cx="690.5" cy="150.4" r="1.0" fill="#1d2a66"/><circle cx="642.9" cy="142.0" r="0.7" fill="#1d2a66"/><circle cx="611.1" cy="134.6" r="0.9" fill="#1d2a66"/><circle cx="339.5" cy="157.8" r="1.0" fill="#1d2a66"/><ellipse cx="55.0" cy="137.9" rx="1.2" ry="0.8" transform="rotate(130 55.0 137.9)" fill="#1f2b62"/><circle cx="485.0" cy="141.9" r="0.8" fill="#1d2a66"/><circle cx="507.3" cy="148.6" r="1.0" fill="#1d2a66"/><ellipse cx="398.2" cy="154.5" rx="2.2" ry="1.6" transform="rotate(145 398.2 154.5)" fill="#3e3632" stroke="#1f2550" stroke-width="0.9"/><circle cx="214.1" cy="143.9" r="1.1" fill="#1d2a66"/><circle cx="624.7" cy="137.1" r="0.8" fill="#1d2a66"/><circle cx="254.9" cy="139.5" r="0.8" fill="#1d2a66"/><circle cx="394.4" cy="153.1" r="1.0" fill="#1d2a66"/><ellipse cx="393.7" cy="141.7" rx="1.7" ry="1.2" transform="rotate(4 393.7 141.7)" fill="#1f2b62"/><ellipse cx="360.9" cy="155.5" rx="1.8" ry="1.5" transform="rotate(145 360.9 155.5)" fill="#1f2b62"/><ellipse cx="46.6" cy="144.5" rx="1.2" ry="0.7" transform="rotate(133 46.6 144.5)" fill="#1f2b62"/><ellipse cx="627.8" cy="134.8" rx="1.2" ry="1.1" transform="rotate(117 627.8 134.8)" fill="#1f2b62"/><ellipse cx="172.8" cy="150.2" rx="1.5" ry="1.3" transform="rotate(71 172.8 150.2)" fill="#1f2b62"/><circle cx="675.9" cy="152.9" r="0.9" fill="#1d2a66"/><ellipse cx="503.8" cy="154.7" rx="1.9" ry="1.6" transform="rotate(120 503.8 154.7)" fill="#3e3632" stroke="#1f2550" stroke-width="0.9"/><ellipse cx="596.0" cy="149.2" rx="1.7" ry="1.7" transform="rotate(115 596.0 149.2)" fill="#1f2b62"/><ellipse cx="366.6" cy="157.3" rx="1.4" ry="1.1" transform="rotate(26 366.6 157.3)" fill="#1f2b62"/><circle cx="517.9" cy="162.8" r="0.8" fill="#1d2a66"/><circle cx="144.2" cy="150.9" r="1.1" fill="#1d2a66"/><circle cx="43.2" cy="141.1" r="1.0" fill="#1d2a66"/><circle cx="542.1" cy="146.0" r="0.9" fill="#1d2a66"/><circle cx="408.5" cy="152.1" r="0.7" fill="#1d2a66"/><circle cx="130.4" cy="144.9" r="1.0" fill="#1d2a66"/><circle cx="416.0" cy="138.4" r="0.8" fill="#1d2a66"/><circle cx="122.1" cy="151.5" r="0.9" fill="#1d2a66"/><circle cx="570.7" cy="147.7" r="1.1" fill="#1d2a66"/><circle cx="638.3" cy="140.0" r="1.1" fill="#1d2a66"/><circle cx="337.9" cy="149.1" r="1.1" fill="#1d2a66"/><circle cx="559.8" cy="148.0" r="0.9" fill="#1d2a66"/><ellipse cx="193.1" cy="160.9" rx="1.3" ry="0.8" transform="rotate(85 193.1 160.9)" fill="#1f2b62"/><ellipse cx="260.6" cy="146.4" rx="1.5" ry="1.0" transform="rotate(28 260.6 146.4)" fill="#1f2b62"/><circle cx="182.6" cy="160.5" r="1.0" fill="#1d2a66"/><circle cx="693.2" cy="150.0" r="0.8" fill="#1d2a66"/><ellipse cx="538.2" cy="142.7" rx="1.7" ry="1.6" transform="rotate(15 538.2 142.7)" fill="#1f2b62"/><circle cx="189.9" cy="156.6" r="0.9" fill="#1d2a66"/><ellipse cx="328.2" cy="161.0" rx="1.7" ry="1.2" transform="rotate(142 328.2 161.0)" fill="#1f2b62"/><circle cx="292.2" cy="153.4" r="1.0" fill="#1d2a66"/><circle cx="147.1" cy="153.4" r="0.8" fill="#1d2a66"/><circle cx="581.1" cy="142.3" r="0.7" fill="#1d2a66"/><ellipse cx="214.8" cy="146.2" rx="1.4" ry="1.2" transform="rotate(19 214.8 146.2)" fill="#1f2b62"/><ellipse cx="276.4" cy="142.6" rx="2.2" ry="1.7" transform="rotate(2 276.4 142.6)" fill="#3e3632" stroke="#1f2550" stroke-width="0.9"/><circle cx="264.5" cy="145.4" r="0.9" fill="#1d2a66"/><ellipse cx="320.8" cy="143.0" rx="2.2" ry="1.4" transform="rotate(111 320.8 143.0)" fill="#3e3632" stroke="#1f2550" stroke-width="0.9"/><circle cx="204.1" cy="147.6" r="0.8" fill="#1d2a66"/><circle cx="275.0" cy="146.0" r="0.8" fill="#1d2a66"/>
<path d="M0,101.5 H291 L306,120.6 H375 L389.5,101.5 H700 V108.6 H397 L381,125.3 H300 L284,108.6 H0Z" fill="#2b2b2d"/>
<path d="M295.8,107.6 H384.5 L375,120.6 H306Z" fill="#2e5ec4"/>
<rect x="0" y="149.3" width="29" height="2.2" fill="#24306e"/>
<rect x="0" y="202.5" width="29" height="2.2" fill="#2a2a3a"/>
<rect x="0" y="246.6" width="29" height="2.2" fill="#2a2a3a"/>
<rect x="0" y="292.2" width="29" height="2.2" fill="#4a4540"/>
<rect x="0" y="338.9" width="29" height="2.2" fill="#2a2a2a"/>
<rect x="0" y="384.2" width="29" height="2.2" fill="#2a2a2a"/>
<rect x="0" y="431.7" width="29" height="2.2" fill="#3a3a3a"/>
<text x="5" y="120.8" font-size="14.8" textLength="41.7" lengthAdjust="spacingAndGlyphs" fill="#302d31" stroke="#302d31" stroke-width="0.35">0 feet</text>
<text x="6" y="170.4" font-size="14.8" textLength="38" lengthAdjust="spacingAndGlyphs" fill="#302d31" stroke="#302d31" stroke-width="0.35">1,000</text>
<text x="6" y="219.6" font-size="14.8" textLength="38" lengthAdjust="spacingAndGlyphs" fill="#302d31" stroke="#302d31" stroke-width="0.35">2,000</text>
<text x="5" y="265.6" font-size="14.8" textLength="39" lengthAdjust="spacingAndGlyphs" fill="#302d31" stroke="#302d31" stroke-width="0.35">3,000</text>
<text x="6" y="308" font-size="14.8" textLength="38.5" lengthAdjust="spacingAndGlyphs" fill="#302d31" stroke="#302d31" stroke-width="0.35">4,000</text>
<text x="6" y="352.8" font-size="14.8" textLength="38.5" lengthAdjust="spacingAndGlyphs" fill="#302d31" stroke="#302d31" stroke-width="0.35">5,000</text>
<text x="5" y="399" font-size="14.8" textLength="39" lengthAdjust="spacingAndGlyphs" fill="#302d31" stroke="#302d31" stroke-width="0.35">6,000</text>
<text x="5" y="448" font-size="14.8" textLength="38.5" lengthAdjust="spacingAndGlyphs" fill="#302d31" stroke="#302d31" stroke-width="0.35">7,000</text>
<text x="5" y="67.6" font-size="11.8" textLength="37.3" lengthAdjust="spacingAndGlyphs" fill="#302d31" stroke="#302d31" stroke-width="0.3">Depth</text>
<text x="5" y="82.5" font-size="11.8" textLength="38" lengthAdjust="spacingAndGlyphs" fill="#302d31" stroke="#302d31" stroke-width="0.3">Below</text>
<text x="5" y="97.3" font-size="12.5" textLength="46.7" lengthAdjust="spacingAndGlyphs" fill="#302d31" stroke="#302d31" stroke-width="0.3">Surface</text>
<rect x="220.8" y="100" width="21.8" height="82" fill="#2b2b2d"/>
<rect x="221.6" y="121.5" width="4.5" height="60" fill="#b4b4b4"/>
<rect x="237.7" y="121.5" width="4.9" height="60" fill="#b4b4b4"/>
<rect x="221.8" y="121.5" width="1.4" height="1.3" fill="#ffffff"/><rect x="223.2" y="123.0" width="1.4" height="1.3" fill="#7a7a7a"/><rect x="224.7" y="123.0" width="1.4" height="1.3" fill="#f2f2f2"/><rect x="221.8" y="124.5" width="1.4" height="1.3" fill="#7a7a7a"/><rect x="223.1" y="124.5" width="1.4" height="1.3" fill="#f2f2f2"/><rect x="224.4" y="124.5" width="1.4" height="1.3" fill="#e4e4e4"/><rect x="221.5" y="126.0" width="1.4" height="1.3" fill="#7a7a7a"/><rect x="224.4" y="126.0" width="1.4" height="1.3" fill="#5a5a5a"/><rect x="221.5" y="127.5" width="1.4" height="1.3" fill="#f2f2f2"/><rect x="223.2" y="127.5" width="1.4" height="1.3" fill="#e4e4e4"/><rect x="224.5" y="127.5" width="1.4" height="1.3" fill="#e4e4e4"/><rect x="221.5" y="129.0" width="1.4" height="1.3" fill="#e4e4e4"/><rect x="224.3" y="129.0" width="1.4" height="1.3" fill="#7a7a7a"/><rect x="221.9" y="130.5" width="1.4" height="1.3" fill="#e4e4e4"/><rect x="223.0" y="130.5" width="1.4" height="1.3" fill="#ffffff"/><rect x="224.5" y="130.5" width="1.4" height="1.3" fill="#f2f2f2"/><rect x="221.6" y="132.0" width="1.4" height="1.3" fill="#f2f2f2"/><rect x="224.3" y="132.0" width="1.4" height="1.3" fill="#ffffff"/><rect x="221.4" y="133.5" width="1.4" height="1.3" fill="#e4e4e4"/><rect x="224.6" y="133.5" width="1.4" height="1.3" fill="#ffffff"/><rect x="221.6" y="135.0" width="1.4" height="1.3" fill="#7a7a7a"/><rect x="223.0" y="135.0" width="1.4" height="1.3" fill="#f2f2f2"/><rect x="224.7" y="135.0" width="1.4" height="1.3" fill="#5a5a5a"/><rect x="221.9" y="136.5" width="1.4" height="1.3" fill="#e4e4e4"/><rect x="224.6" y="136.5" width="1.4" height="1.3" fill="#ffffff"/><rect x="221.5" y="138.0" width="1.4" height="1.3" fill="#7a7a7a"/><rect x="222.9" y="139.5" width="1.4" height="1.3" fill="#f2f2f2"/><rect x="224.7" y="139.5" width="1.4" height="1.3" fill="#ffffff"/><rect x="221.4" y="141.0" width="1.4" height="1.3" fill="#5a5a5a"/><rect x="222.9" y="141.0" width="1.4" height="1.3" fill="#ffffff"/><rect x="224.6" y="141.0" width="1.4" height="1.3" fill="#e4e4e4"/><rect x="221.5" y="142.5" width="1.4" height="1.3" fill="#7a7a7a"/><rect x="223.1" y="142.5" width="1.4" height="1.3" fill="#5a5a5a"/><rect x="224.6" y="142.5" width="1.4" height="1.3" fill="#e4e4e4"/><rect x="221.6" y="144.0" width="1.4" height="1.3" fill="#ffffff"/><rect x="223.3" y="144.0" width="1.4" height="1.3" fill="#f2f2f2"/><rect x="224.4" y="144.0" width="1.4" height="1.3" fill="#7a7a7a"/><rect x="221.9" y="145.5" width="1.4" height="1.3" fill="#5a5a5a"/><rect x="222.9" y="145.5" width="1.4" height="1.3" fill="#7a7a7a"/><rect x="224.2" y="145.5" width="1.4" height="1.3" fill="#e4e4e4"/><rect x="221.6" y="147.0" width="1.4" height="1.3" fill="#e4e4e4"/><rect x="223.1" y="148.5" width="1.4" height="1.3" fill="#7a7a7a"/><rect x="224.3" y="148.5" width="1.4" height="1.3" fill="#ffffff"/><rect x="221.5" y="150.0" width="1.4" height="1.3" fill="#e4e4e4"/><rect x="224.5" y="150.0" width="1.4" height="1.3" fill="#e4e4e4"/><rect x="221.5" y="151.5" width="1.4" height="1.3" fill="#ffffff"/><rect x="223.2" y="151.5" width="1.4" height="1.3" fill="#5a5a5a"/><rect x="221.7" y="153.0" width="1.4" height="1.3" fill="#ffffff"/><rect x="223.0" y="153.0" width="1.4" height="1.3" fill="#ffffff"/><rect x="224.6" y="153.0" width="1.4" height="1.3" fill="#ffffff"/><rect x="221.9" y="154.5" width="1.4" height="1.3" fill="#ffffff"/><rect x="223.1" y="154.5" width="1.4" height="1.3" fill="#e4e4e4"/><rect x="224.6" y="154.5" width="1.4" height="1.3" fill="#5a5a5a"/><rect x="221.6" y="156.0" width="1.4" height="1.3" fill="#ffffff"/><rect x="224.4" y="156.0" width="1.4" height="1.3" fill="#ffffff"/><rect x="221.6" y="157.5" width="1.4" height="1.3" fill="#7a7a7a"/><rect x="221.9" y="159.0" width="1.4" height="1.3" fill="#ffffff"/><rect x="223.3" y="159.0" width="1.4" height="1.3" fill="#5a5a5a"/><rect x="224.7" y="159.0" width="1.4" height="1.3" fill="#ffffff"/><rect x="221.8" y="160.5" width="1.4" height="1.3" fill="#f2f2f2"/><rect x="224.5" y="160.5" width="1.4" height="1.3" fill="#5a5a5a"/><rect x="223.2" y="162.0" width="1.4" height="1.3" fill="#5a5a5a"/><rect x="224.3" y="162.0" width="1.4" height="1.3" fill="#f2f2f2"/><rect x="221.7" y="163.5" width="1.4" height="1.3" fill="#5a5a5a"/><rect x="223.1" y="163.5" width="1.4" height="1.3" fill="#e4e4e4"/><rect x="224.7" y="163.5" width="1.4" height="1.3" fill="#7a7a7a"/><rect x="221.5" y="165.0" width="1.4" height="1.3" fill="#e4e4e4"/><rect x="224.2" y="165.0" width="1.4" height="1.3" fill="#5a5a5a"/><rect x="221.7" y="166.5" width="1.4" height="1.3" fill="#7a7a7a"/><rect x="222.9" y="166.5" width="1.4" height="1.3" fill="#e4e4e4"/><rect x="221.9" y="168.0" width="1.4" height="1.3" fill="#7a7a7a"/><rect x="221.6" y="169.5" width="1.4" height="1.3" fill="#5a5a5a"/><rect x="223.0" y="169.5" width="1.4" height="1.3" fill="#5a5a5a"/><rect x="224.4" y="169.5" width="1.4" height="1.3" fill="#5a5a5a"/><rect x="221.8" y="171.0" width="1.4" height="1.3" fill="#ffffff"/><rect x="223.1" y="171.0" width="1.4" height="1.3" fill="#5a5a5a"/><rect x="224.3" y="171.0" width="1.4" height="1.3" fill="#e4e4e4"/><rect x="221.9" y="172.5" width="1.4" height="1.3" fill="#7a7a7a"/><rect x="224.6" y="172.5" width="1.4" height="1.3" fill="#ffffff"/><rect x="221.5" y="174.0" width="1.4" height="1.3" fill="#7a7a7a"/><rect x="223.1" y="174.0" width="1.4" height="1.3" fill="#5a5a5a"/><rect x="224.4" y="174.0" width="1.4" height="1.3" fill="#5a5a5a"/><rect x="221.6" y="175.5" width="1.4" height="1.3" fill="#e4e4e4"/><rect x="223.0" y="175.5" width="1.4" height="1.3" fill="#7a7a7a"/><rect x="221.5" y="177.0" width="1.4" height="1.3" fill="#5a5a5a"/><rect x="224.2" y="177.0" width="1.4" height="1.3" fill="#7a7a7a"/><rect x="222.9" y="178.5" width="1.4" height="1.3" fill="#ffffff"/><rect x="224.7" y="178.5" width="1.4" height="1.3" fill="#5a5a5a"/><rect x="221.8" y="180.0" width="1.4" height="1.3" fill="#f2f2f2"/><rect x="224.5" y="180.0" width="1.4" height="1.3" fill="#5a5a5a"/><rect x="238.1" y="121.5" width="1.4" height="1.3" fill="#7a7a7a"/><rect x="239.5" y="121.5" width="1.4" height="1.3" fill="#ffffff"/><rect x="238.0" y="123.0" width="1.4" height="1.3" fill="#7a7a7a"/><rect x="239.5" y="123.0" width="1.4" height="1.3" fill="#5a5a5a"/><rect x="237.9" y="124.5" width="1.4" height="1.3" fill="#e4e4e4"/><rect x="239.4" y="124.5" width="1.4" height="1.3" fill="#ffffff"/><rect x="237.9" y="126.0" width="1.4" height="1.3" fill="#ffffff"/><rect x="240.5" y="126.0" width="1.4" height="1.3" fill="#f2f2f2"/><rect x="238.1" y="127.5" width="1.4" height="1.3" fill="#f2f2f2"/><rect x="239.3" y="127.5" width="1.4" height="1.3" fill="#f2f2f2"/><rect x="238.1" y="129.0" width="1.4" height="1.3" fill="#7a7a7a"/><rect x="240.9" y="129.0" width="1.4" height="1.3" fill="#e4e4e4"/><rect x="237.9" y="130.5" width="1.4" height="1.3" fill="#f2f2f2"/><rect x="239.4" y="130.5" width="1.4" height="1.3" fill="#7a7a7a"/><rect x="241.0" y="130.5" width="1.4" height="1.3" fill="#7a7a7a"/><rect x="238.0" y="132.0" width="1.4" height="1.3" fill="#7a7a7a"/><rect x="238.0" y="133.5" width="1.4" height="1.3" fill="#7a7a7a"/><rect x="240.6" y="133.5" width="1.4" height="1.3" fill="#e4e4e4"/><rect x="238.0" y="135.0" width="1.4" height="1.3" fill="#f2f2f2"/><rect x="239.6" y="135.0" width="1.4" height="1.3" fill="#7a7a7a"/><rect x="237.8" y="136.5" width="1.4" height="1.3" fill="#f2f2f2"/><rect x="239.4" y="136.5" width="1.4" height="1.3" fill="#5a5a5a"/><rect x="238.2" y="138.0" width="1.4" height="1.3" fill="#e4e4e4"/><rect x="239.2" y="138.0" width="1.4" height="1.3" fill="#7a7a7a"/><rect x="240.9" y="138.0" width="1.4" height="1.3" fill="#7a7a7a"/><rect x="237.7" y="139.5" width="1.4" height="1.3" fill="#e4e4e4"/><rect x="239.5" y="139.5" width="1.4" height="1.3" fill="#7a7a7a"/><rect x="240.8" y="139.5" width="1.4" height="1.3" fill="#5a5a5a"/><rect x="240.5" y="141.0" width="1.4" height="1.3" fill="#7a7a7a"/><rect x="237.9" y="142.5" width="1.4" height="1.3" fill="#7a7a7a"/><rect x="240.6" y="142.5" width="1.4" height="1.3" fill="#f2f2f2"/><rect x="238.0" y="144.0" width="1.4" height="1.3" fill="#5a5a5a"/><rect x="239.4" y="144.0" width="1.4" height="1.3" fill="#5a5a5a"/><rect x="240.8" y="144.0" width="1.4" height="1.3" fill="#f2f2f2"/><rect x="238.0" y="145.5" width="1.4" height="1.3" fill="#ffffff"/><rect x="239.5" y="145.5" width="1.4" height="1.3" fill="#e4e4e4"/><rect x="240.6" y="145.5" width="1.4" height="1.3" fill="#7a7a7a"/><rect x="237.7" y="147.0" width="1.4" height="1.3" fill="#ffffff"/><rect x="239.5" y="147.0" width="1.4" height="1.3" fill="#f2f2f2"/><rect x="240.6" y="147.0" width="1.4" height="1.3" fill="#7a7a7a"/><rect x="239.2" y="148.5" width="1.4" height="1.3" fill="#ffffff"/><rect x="240.9" y="148.5" width="1.4" height="1.3" fill="#5a5a5a"/><rect x="238.2" y="150.0" width="1.4" height="1.3" fill="#e4e4e4"/><rect x="239.5" y="150.0" width="1.4" height="1.3" fill="#e4e4e4"/><rect x="240.9" y="150.0" width="1.4" height="1.3" fill="#7a7a7a"/><rect x="237.9" y="151.5" width="1.4" height="1.3" fill="#5a5a5a"/><rect x="240.9" y="151.5" width="1.4" height="1.3" fill="#5a5a5a"/><rect x="239.4" y="153.0" width="1.4" height="1.3" fill="#ffffff"/><rect x="238.0" y="154.5" width="1.4" height="1.3" fill="#ffffff"/><rect x="239.2" y="154.5" width="1.4" height="1.3" fill="#5a5a5a"/><rect x="240.5" y="154.5" width="1.4" height="1.3" fill="#f2f2f2"/><rect x="237.8" y="156.0" width="1.4" height="1.3" fill="#e4e4e4"/><rect x="239.4" y="156.0" width="1.4" height="1.3" fill="#7a7a7a"/><rect x="240.7" y="156.0" width="1.4" height="1.3" fill="#7a7a7a"/><rect x="239.3" y="157.5" width="1.4" height="1.3" fill="#7a7a7a"/><rect x="240.6" y="157.5" width="1.4" height="1.3" fill="#e4e4e4"/><rect x="238.1" y="159.0" width="1.4" height="1.3" fill="#ffffff"/><rect x="240.6" y="159.0" width="1.4" height="1.3" fill="#5a5a5a"/><rect x="238.1" y="160.5" width="1.4" height="1.3" fill="#e4e4e4"/><rect x="239.3" y="160.5" width="1.4" height="1.3" fill="#f2f2f2"/><rect x="240.7" y="160.5" width="1.4" height="1.3" fill="#ffffff"/><rect x="238.0" y="162.0" width="1.4" height="1.3" fill="#f2f2f2"/><rect x="239.2" y="162.0" width="1.4" height="1.3" fill="#e4e4e4"/><rect x="240.7" y="162.0" width="1.4" height="1.3" fill="#ffffff"/><rect x="237.7" y="163.5" width="1.4" height="1.3" fill="#e4e4e4"/><rect x="239.2" y="163.5" width="1.4" height="1.3" fill="#5a5a5a"/><rect x="241.0" y="163.5" width="1.4" height="1.3" fill="#7a7a7a"/><rect x="237.8" y="165.0" width="1.4" height="1.3" fill="#ffffff"/><rect x="239.5" y="165.0" width="1.4" height="1.3" fill="#f2f2f2"/><rect x="240.9" y="165.0" width="1.4" height="1.3" fill="#e4e4e4"/><rect x="238.2" y="166.5" width="1.4" height="1.3" fill="#e4e4e4"/><rect x="239.5" y="166.5" width="1.4" height="1.3" fill="#7a7a7a"/><rect x="240.5" y="166.5" width="1.4" height="1.3" fill="#7a7a7a"/><rect x="239.1" y="168.0" width="1.4" height="1.3" fill="#f2f2f2"/><rect x="239.5" y="169.5" width="1.4" height="1.3" fill="#f2f2f2"/><rect x="240.5" y="169.5" width="1.4" height="1.3" fill="#7a7a7a"/><rect x="238.0" y="171.0" width="1.4" height="1.3" fill="#e4e4e4"/><rect x="239.1" y="171.0" width="1.4" height="1.3" fill="#f2f2f2"/><rect x="238.1" y="172.5" width="1.4" height="1.3" fill="#f2f2f2"/><rect x="240.8" y="172.5" width="1.4" height="1.3" fill="#5a5a5a"/><rect x="237.7" y="174.0" width="1.4" height="1.3" fill="#e4e4e4"/><rect x="239.1" y="174.0" width="1.4" height="1.3" fill="#f2f2f2"/><rect x="238.1" y="175.5" width="1.4" height="1.3" fill="#f2f2f2"/><rect x="239.3" y="175.5" width="1.4" height="1.3" fill="#f2f2f2"/><rect x="240.8" y="175.5" width="1.4" height="1.3" fill="#7a7a7a"/><rect x="238.1" y="177.0" width="1.4" height="1.3" fill="#e4e4e4"/><rect x="240.9" y="177.0" width="1.4" height="1.3" fill="#7a7a7a"/><rect x="239.3" y="178.5" width="1.4" height="1.3" fill="#e4e4e4"/><rect x="240.9" y="178.5" width="1.4" height="1.3" fill="#ffffff"/><rect x="238.0" y="180.0" width="1.4" height="1.3" fill="#e4e4e4"/><rect x="239.5" y="180.0" width="1.4" height="1.3" fill="#f2f2f2"/>
<path d="M225.5,100 V438 A30,32.4 0 0 0 255.5,470.4 H471 V460.2 H251.5 A13,13 0 0 1 238.4,447.2 V100 Z" fill="#232325"/>
<path d="M228.2,105.4 V440 A27.8,28 0 0 0 256,468 H470 V462.6 H249 A13,15.6 0 0 1 236,447 V105.4 Z" fill="#fbfbfb"/>
<rect x="230.9" y="245.3" width="1.1" height="1.1" fill="#a0a0a0"/><rect x="231.8" y="251.7" width="1.1" height="1.1" fill="#a0a0a0"/><rect x="232.9" y="279.0" width="1.1" height="1.1" fill="#a0a0a0"/><rect x="232.7" y="284.4" width="1.1" height="1.1" fill="#a0a0a0"/><rect x="231.0" y="292.2" width="1.1" height="1.1" fill="#a0a0a0"/><rect x="230.0" y="297.4" width="1.1" height="1.1" fill="#a0a0a0"/><rect x="231.2" y="304.0" width="1.1" height="1.1" fill="#a0a0a0"/><rect x="230.1" y="308.9" width="1.1" height="1.1" fill="#a0a0a0"/><rect x="230.4" y="324.1" width="1.1" height="1.1" fill="#a0a0a0"/><rect x="230.2" y="328.7" width="1.1" height="1.1" fill="#a0a0a0"/><rect x="230.6" y="334.1" width="1.1" height="1.1" fill="#a0a0a0"/><rect x="231.4" y="360.0" width="1.1" height="1.1" fill="#a0a0a0"/><rect x="232.7" y="380.7" width="1.1" height="1.1" fill="#a0a0a0"/><rect x="231.5" y="388.2" width="1.1" height="1.1" fill="#a0a0a0"/><rect x="230.3" y="395.3" width="1.1" height="1.1" fill="#a0a0a0"/><rect x="232.6" y="415.1" width="1.1" height="1.1" fill="#a0a0a0"/><rect x="230.3" y="436.1" width="1.1" height="1.1" fill="#a0a0a0"/><rect x="233.1" y="449.8" width="1.1" height="1.1" fill="#9a9a9a"/><rect x="235.5" y="455.7" width="1.1" height="1.1" fill="#9a9a9a"/><rect x="239.7" y="460.6" width="1.1" height="1.1" fill="#9a9a9a"/><rect x="245.2" y="463.9" width="1.1" height="1.1" fill="#9a9a9a"/><rect x="249.8" y="465.2" width="1.1" height="1.1" fill="#9a9a9a"/><rect x="258.0" y="465.1" width="1.1" height="1.1" fill="#9a9a9a"/><rect x="269.0" y="464.5" width="1.1" height="1.1" fill="#9a9a9a"/><rect x="280.0" y="465.2" width="1.1" height="1.1" fill="#9a9a9a"/><rect x="293.7" y="465.3" width="1.1" height="1.1" fill="#9a9a9a"/><rect x="303.2" y="465.3" width="1.1" height="1.1" fill="#9a9a9a"/><rect x="316.6" y="465.4" width="1.1" height="1.1" fill="#9a9a9a"/><rect x="328.6" y="464.9" width="1.1" height="1.1" fill="#9a9a9a"/><rect x="338.7" y="465.4" width="1.1" height="1.1" fill="#9a9a9a"/><rect x="349.7" y="465.2" width="1.1" height="1.1" fill="#9a9a9a"/><rect x="357.5" y="464.1" width="1.1" height="1.1" fill="#9a9a9a"/><rect x="365.7" y="464.9" width="1.1" height="1.1" fill="#9a9a9a"/><rect x="376.2" y="464.3" width="1.1" height="1.1" fill="#9a9a9a"/><rect x="383.7" y="465.5" width="1.1" height="1.1" fill="#9a9a9a"/><rect x="390.3" y="465.5" width="1.1" height="1.1" fill="#9a9a9a"/><rect x="402.5" y="464.9" width="1.1" height="1.1" fill="#9a9a9a"/><rect x="416.5" y="465.1" width="1.1" height="1.1" fill="#9a9a9a"/><rect x="422.5" y="465.5" width="1.1" height="1.1" fill="#9a9a9a"/><rect x="431.8" y="465.5" width="1.1" height="1.1" fill="#9a9a9a"/><rect x="444.3" y="464.2" width="1.1" height="1.1" fill="#9a9a9a"/><rect x="450.6" y="464.0" width="1.1" height="1.1" fill="#9a9a9a"/><rect x="462.9" y="465.3" width="1.1" height="1.1" fill="#9a9a9a"/>
<path d="M223.2,70 Q223.2,69 224.2,69 H239.4 Q240.4,69 240.4,70 V71.4 Q238.4,72.2 238.4,72.8 Q238.4,73.4 240.2,74 V76 Q238,76.8 238,77.6 V81.6 H243.3 Q245,81.6 245,84.7 Q245,87.8 243.3,87.8 H238.4 V92.5 Q238.4,94.5 240.5,94.5 H242 Q244,94.5 244,96.5 V101 H220.8 V96.5 Q220.8,94.5 222.8,94.5 H223.8 Q225.6,94.5 225.6,92.5 V87.8 H220.5 Q218.8,87.8 218.8,84.7 Q218.8,81.6 220.5,81.6 H225.6 V77.6 Q225.6,76.8 223.4,76 V74 Q225.2,73.4 225.2,72.8 Q225.2,72.2 223.2,71.4 Z" fill="#323234"/>
<path d="M215,41.5 L223.6,53.5" stroke="#2b2b2d" stroke-width="2.6" stroke-dasharray="3.4,2.2"/>
<path d="M219.1,59.6 L231.4,50.9 L229.6,62.3Z" fill="#2b2b2d" stroke="#2b2b2d" stroke-width="0.8" stroke-linejoin="round"/>
<text x="138.6" y="32.4" font-size="20" textLength="94.3" lengthAdjust="spacingAndGlyphs" fill="#302d31" stroke="#302d31" stroke-width="0.6">Well Head</text>
<g stroke="#3a3c3e" stroke-width="1.2" stroke-linejoin="round">
<path d="M107,74 H181 V92 H107Z" fill="#545759"/>
<path d="M121.5,74 V70.5 Q121.5,69 123,69 H126 Q127.5,69 127.5,70.5 V74Z" fill="#545759"/>
<path d="M145,74 V70.5 Q145,69 146.5,69 H149.5 Q151,69 151,70.5 V74Z" fill="#545759"/>
<path d="M157.5,74 V69 Q157.5,67.6 159,67.6 H162 Q163.5,67.6 163.5,69 V74Z" fill="#545759"/>
<path d="M169,74 V67.5 Q169,66.8 170,66.8 H179 Q180,66.8 180,67.5 V74Z" fill="#545759"/>
<path d="M107,77 H122 V74 H107Z" fill="#545759"/>
<path d="M81.2,93 V77.5 L83,65.5 Q83.3,63.8 85,63.8 H101.5 Q102.8,63.8 102.8,65.5 V74.5 H108.4 V93Z" fill="#545759"/>
</g>
<rect x="105.6" y="59.4" width="2.4" height="16" rx="1" fill="#3a3c3e"/>
<path d="M86.3,67 Q86.5,66.4 87.5,66.4 H89.6 V79.6 Q89.6,80.4 88.6,80.4 H86.2 Q85.6,80.4 85.6,79.6Z" fill="#eef2f3"/>
<ellipse cx="87.3" cy="95.4" rx="2.2" ry="1.4" fill="#f2f2f2"/>
<path d="M91,66.2 H97.8 V73.5 Q97.8,74.2 97,74.2 H91Z" fill="#e6ebed"/>
<rect x="128" y="84" width="44" height="2" fill="#8a8d8f"/>
<line x1="131" y1="75" x2="131" y2="92" stroke="#3a3c3e" stroke-width="1"/>
<line x1="152" y1="75" x2="152" y2="92" stroke="#3a3c3e" stroke-width="1"/>
<line x1="166" y1="75" x2="166" y2="92" stroke="#3a3c3e" stroke-width="1"/>
<path d="M90.9,95 A8.5,8.5 0 0 1 107.9,95" fill="none" stroke="#d8d8d8" stroke-width="1.6"/>
<circle cx="99.4" cy="95.2" r="6.6" fill="#3a3c3e"/><circle cx="99.4" cy="95.2" r="4.3" fill="#c8cacb"/><circle cx="99.4" cy="95.2" r="2.6" fill="#3a3c3e"/>
<path d="M116.8,95 A8.5,8.5 0 0 1 133.8,95" fill="none" stroke="#d8d8d8" stroke-width="1.6"/>
<circle cx="125.3" cy="95.2" r="6.6" fill="#3a3c3e"/><circle cx="125.3" cy="95.2" r="4.3" fill="#c8cacb"/><circle cx="125.3" cy="95.2" r="2.6" fill="#3a3c3e"/>
<path d="M148.2,95 A8.5,8.5 0 0 1 165.2,95" fill="none" stroke="#d8d8d8" stroke-width="1.6"/>
<circle cx="156.7" cy="95.2" r="6.6" fill="#3a3c3e"/><circle cx="156.7" cy="95.2" r="4.3" fill="#c8cacb"/><circle cx="156.7" cy="95.2" r="2.6" fill="#3a3c3e"/>
<path d="M164.7,95 A8.5,8.5 0 0 1 181.7,95" fill="none" stroke="#d8d8d8" stroke-width="1.6"/>
<circle cx="173.2" cy="95.2" r="6.6" fill="#3a3c3e"/><circle cx="173.2" cy="95.2" r="4.3" fill="#c8cacb"/><circle cx="173.2" cy="95.2" r="2.6" fill="#3a3c3e"/>
<path d="M362.8,74 Q362.8,71.5 365.5,71.5 H415 V75.5 H367.4 V114 H362.8Z" fill="#dcdcde" stroke="#a9abad" stroke-width="0.7"/>
<rect x="361.3" y="70.3" width="7.6" height="7.6" rx="1.8" fill="#d6d7d8" stroke="#9fa1a3" stroke-width="0.7"/>
<rect x="357" y="115" width="15.8" height="4.7" fill="#e2dccb" stroke="#a9abad" stroke-width="0.8"/>
<rect x="409.5" y="70.3" width="6" height="7.6" rx="1" fill="#d6d7d8" stroke="#9fa1a3" stroke-width="0.7"/>
<rect x="453.7" y="54.4" width="12.6" height="10" rx="1" fill="#b9b9b9"/>
<ellipse cx="459.5" cy="54.8" rx="6.5" ry="1.6" fill="#d8d8d8"/>
<rect x="414" y="63.3" width="92" height="25" rx="6" ry="9" fill="url(#tanker)"/>
<rect x="418" y="88.8" width="92" height="2.2" fill="#5f6163"/>
<rect x="506.5" y="75" width="4" height="17" fill="#3e4042"/>
<path d="M509.9,95.5 V64 Q509.9,61.6 512.5,61.6 H518 Q529.2,62 529.2,73 V80 H548 Q551.3,80.5 551.3,84 V94 Q551.3,95.5 549.5,95.5 Z" fill="#2a4cb8" stroke="#1f3a92" stroke-width="0.8"/>
<rect x="513.6" y="71.9" width="11.8" height="5.7" fill="#dfe9ee"/>
<circle cx="423.8" cy="96.3" r="5.6" fill="#333436"/><circle cx="423.8" cy="96.3" r="3.4" fill="#c9cacb"/><circle cx="423.8" cy="96.3" r="1.5" fill="#333436"/>
<circle cx="435.5" cy="96.3" r="5.6" fill="#333436"/><circle cx="435.5" cy="96.3" r="3.4" fill="#c9cacb"/><circle cx="435.5" cy="96.3" r="1.5" fill="#333436"/>
<circle cx="497" cy="96.3" r="5.6" fill="#333436"/><circle cx="497" cy="96.3" r="3.4" fill="#c9cacb"/><circle cx="497" cy="96.3" r="1.5" fill="#333436"/>
<circle cx="539.5" cy="96.3" r="5.6" fill="#333436"/><circle cx="539.5" cy="96.3" r="3.4" fill="#c9cacb"/><circle cx="539.5" cy="96.3" r="1.5" fill="#333436"/>
<path d="M582.2,41.5 Q582.2,34 600.8,33.9 Q619.3,34 619.3,41.5 V101.5 H582.2Z" fill="url(#tank)"/>
<path d="M582.2,41.5 Q582.2,34 600.8,33.9 Q619.3,34 619.3,41.5Z" fill="#d3cfcf"/>
<rect x="582.2" y="40.8" width="37.1" height="1.2" fill="#8a8a8a"/>
<path d="M625.9,65.2 Q626,60.6 657.6,60.6 Q689.3,60.6 689.3,65.2 V101.5 H625.9Z" fill="url(#tank)"/>
<path d="M625.9,65.2 Q626,60.6 657.6,60.6 Q689.3,60.6 689.3,65.2Z" fill="#d3cfcf"/>
<rect x="625.9" y="64.7" width="63.4" height="1.1" fill="#8a8a8a"/>
<text x="618.4" y="31.9" font-size="18.5" textLength="72.6" lengthAdjust="spacingAndGlyphs" fill="#302d31" stroke="#302d31" stroke-width="0.6">Storage</text>
<text x="628" y="51.8" font-size="19" textLength="53.3" lengthAdjust="spacingAndGlyphs" fill="#302d31" stroke="#302d31" stroke-width="0.6">Tanks</text>
<text x="282.6" y="64" font-size="18" textLength="126.8" lengthAdjust="spacingAndGlyphs" fill="#302d31" stroke="#302d31" stroke-width="0.6">Storage Pond</text>
<path d="M345,76 V91" stroke="#2b2b2d" stroke-width="2.4" stroke-dasharray="3,2.2"/>
<path d="M336.6,90.5 H353.2 L344.9,100.2Z" fill="#2b2b2d"/>
<text x="52.9" y="125.7" font-size="19.8" textLength="136.8" lengthAdjust="spacingAndGlyphs" fill="#302d31" stroke="#302d31" stroke-width="0.6">Surface Casing</text>
<path d="M192,125 h3.7 M198.5,125 h3.7 M205,125 h4" stroke="#2b2b2d" stroke-width="3"/>
<path d="M208.7,117.5 L218.5,125 L208.7,132.9Z" fill="#2b2b2d"/>
<text x="444.8" y="125" font-size="18.6" textLength="179.5" lengthAdjust="spacingAndGlyphs" fill="#302d31" stroke="#302d31" stroke-width="0.6">Freshwater Aquifer</text>
<path d="M440,116.3 H412 Q406.3,116.3 406.3,122 V133.5" fill="none" stroke="#2b2b2d" stroke-width="2.2" stroke-dasharray="3.5,2.1"/>
<path d="M399,133 H413.5 L406.3,139.8Z" fill="#2b2b2d"/>
<text x="121.1" y="341.7" font-size="20" textLength="62.6" lengthAdjust="spacingAndGlyphs" fill="#302d31" stroke="#302d31" stroke-width="0.6">Casing</text>
<path d="M188,337.4 h3.4 M194.5,337.4 h3.4 M201,337.4 h3.4 M207.5,337.4 h2.5" stroke="#2b2b2d" stroke-width="2.6"/>
<path d="M210.6,330.6 L220.6,337.6 L210.6,345Z" fill="#2b2b2d"/>
<text x="129.3" y="474.3" font-size="20.8" textLength="51.4" lengthAdjust="spacingAndGlyphs" fill="#3b3b3d" stroke="#3b3b3d" stroke-width="0.6">Shale</text>
<text x="541.4" y="447.9" font-size="20" textLength="87.9" lengthAdjust="spacingAndGlyphs" fill="#333335" stroke="#333335" stroke-width="0.6">Fractures</text>
<path d="M500.5,439.6 L511.6,432.8 L511.6,446.4Z" fill="#333335"/>
<path d="M513.4,439.6 h5.2 M521,439.6 h5.2 M528.6,439.6 h5.2" stroke="#333335" stroke-width="2.8"/>
<path d="M323.0,130.2 L307.0,141.8" stroke="#4fa6e2" stroke-width="3.2"/>
<path d="M300.5,146.5 L304.6,136.8 L311.0,145.7Z" fill="#4fa6e2"/>
<path d="M363.0,129.4 L379.6,141.7" stroke="#4fa6e2" stroke-width="3.2"/>
<path d="M386.0,146.5 L375.5,145.5 L382.1,136.7Z" fill="#4fa6e2"/>
<path d="M246.0,167.5 L266.0,167.5" stroke="#4fa6e2" stroke-width="3.6"/>
<path d="M275.0,167.5 L265.0,174.5 L265.0,160.5Z" fill="#4fa6e2"/>
<path d="M244.0,256.7 L265.8,256.7" stroke="#4fa6e2" stroke-width="3.6"/>
<path d="M272.3,256.7 L264.8,263.2 L264.8,250.2Z" fill="#4fa6e2"/>
<path d="M671.7,98.6 L677.8,117.5" stroke="#4fa6e2" stroke-width="3.3"/>
<path d="M680.2,125.1 L671.3,118.5 L683.6,114.5Z" fill="#4fa6e2"/>
<g fill="none" stroke="#f7f7f7" stroke-linecap="round" stroke-linejoin="round">
<path d="M287.5,465.5 L282.0,457.0 L278.0,449.0 L279.0,439.0 L278.5,425.0" stroke-width="2.9"/><path d="M287.5,465.5 L291.0,455.0 L295.0,445.0 L296.5,437.0 L299.0,434.0" stroke-width="2.9"/><path d="M292.0,454.0 L303.0,454.5" stroke-width="2.5"/><path d="M280.0,451.0 L273.0,451.5 L266.0,452.0" stroke-width="2.5"/><path d="M282.0,457.0 L286.0,448.0 L288.0,445.0" stroke-width="2.5"/><path d="M279.0,439.0 L282.0,434.0 L285.5,426.0" stroke-width="2.5"/><path d="M287.5,465.5 L282.0,470.4 L274.0,474.4" stroke-width="2.5"/><path d="M287.5,465.5 L294.0,473.6" stroke-width="2.5"/><path d="M287.5,466.0 L282.0,477.2 L277.2,485.6 L272.8,492.8 L274.8,499.5" stroke-width="2.9"/><path d="M289.0,469.0 L296.4,478.4 L302.0,484.0" stroke-width="2.5"/><path d="M296.4,478.4 L289.2,484.0 L287.6,488.8" stroke-width="2.5"/><path d="M289.2,484.0 L297.2,488.0" stroke-width="2.5"/><path d="M274.8,491.2 L285.2,494.4 L286.0,500.0" stroke-width="2.5"/><path d="M266.8,476.0 L269.2,477.6" stroke-width="2.5"/><path d="M307.5,447.0 L308.5,454.0" stroke-width="2.5"/><path d="M266.0,445.0 L268.0,452.0" stroke-width="2.5"/>
<path d="M321.4,439.2 L327.9,439.2 L333.3,441.9 L336.6,445.1 L339.8,451.6 L344.1,457.0 L348.4,460.3 L349.8,464.1" stroke-width="2.9"/><path d="M336.6,444.7 L342.0,436.0 L347.9,428.9" stroke-width="2.5"/><path d="M347.9,428.9 L345.2,418.7" stroke-width="2.5"/><path d="M347.9,428.9 L354.4,425.7" stroke-width="2.5"/><path d="M346.8,424.6 L349.0,420.3" stroke-width="2.5"/><path d="M342.0,436.0 L337.7,429.5" stroke-width="2.5"/><path d="M343.1,453.8 L352.8,445.1 L352.8,440.8 L350.1,438.7 L350.6,434.4" stroke-width="2.9"/><path d="M347.9,449.3 L344.7,449.3" stroke-width="2.5"/><path d="M348.4,458.1 L357.1,451.6 L363.6,447.3 L366.8,447.3" stroke-width="2.9"/><path d="M357.1,451.6 L359.8,445.1 L363.0,438.7" stroke-width="2.5"/><path d="M350.6,458.1 L358.2,455.9 L364.7,455.9 L370.1,453.2" stroke-width="2.9"/><path d="M337.7,450.0 L331.7,450.0" stroke-width="2.5"/><path d="M350.1,464.1 L350.6,474.1 L348.4,479.5 L346.3,487.1 L343.1,494.6 L340.9,497.9 L334.4,501.1" stroke-width="2.9"/><path d="M340.9,497.9 L342.5,507.6" stroke-width="2.5"/><path d="M347.9,481.1 L338.7,483.9 L331.2,484.9" stroke-width="2.5"/><path d="M340.9,484.4 L337.7,490.3 L333.9,494.1" stroke-width="2.5"/><path d="M347.4,477.4 L341.4,478.4" stroke-width="2.5"/><path d="M350.7,467.6 L351.7,473.1 L354.9,479.5 L354.9,489.2 L354.4,497.9 L353.9,504.4" stroke-width="2.9"/><path d="M354.9,479.5 L362.5,489.2 L369.0,494.6" stroke-width="2.5"/><path d="M354.4,497.9 L361.4,503.8" stroke-width="2.5"/><path d="M346.3,487.1 L350.6,493.6" stroke-width="2.5"/>
<path d="M415.8,464.1 L413.6,459.2 L407.2,452.7 L401.8,446.2 L394.2,451.1" stroke-width="2.9"/><path d="M416.6,464.1 L419.0,459.2 L423.4,449.5 L426.6,443.0 L428.8,437.6 L427.7,432.2" stroke-width="2.9"/><path d="M426.6,443.0 L422.3,438.1 L416.9,428.9 L415.8,420.3" stroke-width="2.9"/><path d="M408.2,451.6 L414.7,445.1 L411.5,434.4" stroke-width="2.5"/><path d="M414.7,445.1 L405.0,441.4" stroke-width="2.5"/><path d="M417.5,461.4 L421.2,457.0 L427.7,452.7 L433.6,450.6" stroke-width="2.9"/><path d="M415.8,464.9 L415.8,468.7 L412.6,478.4 L411.5,493.6 L414.7,497.9 L411.5,505.4" stroke-width="2.9"/><path d="M412.6,477.4 L400.7,479.0 L391.0,476.3" stroke-width="2.5"/><path d="M400.7,479.0 L394.2,487.1" stroke-width="2.5"/><path d="M408.2,479.5 L403.9,486.0" stroke-width="2.5"/><path d="M415.8,474.1 L420.1,480.6 L420.1,491.4 L425.0,495.7" stroke-width="2.9"/><path d="M420.1,480.6 L422.3,478.4 L426.1,483.9" stroke-width="2.5"/>
<path d="M474.0,466.0 L473.1,466.0 L469.7,454.1 L467.2,440.5 L466.3,430.3 L460.4,425.2" stroke-width="2.9"/><path d="M466.3,430.3 L468.0,425.2" stroke-width="2.5"/><path d="M469.7,454.1 L462.1,454.9" stroke-width="2.5"/><path d="M474.0,466.0 L474.0,457.5 L479.1,445.6 L482.5,435.4 L487.6,425.2" stroke-width="2.9"/><path d="M482.5,435.4 L483.3,425.2" stroke-width="2.5"/><path d="M479.1,445.6 L475.7,437.1" stroke-width="2.5"/><path d="M474.8,464.4 L485.0,463.6" stroke-width="2.5"/><path d="M474.5,461.0 L478.5,456.5" stroke-width="2.5"/><path d="M474.0,466.0 L473.1,467.7 L468.0,472.8 L465.5,483.0 L462.1,493.2" stroke-width="2.9"/><path d="M468.0,472.8 L457.0,474.5 L454.4,478.7" stroke-width="2.5"/><path d="M474.0,466.0 L474.8,469.4 L479.1,479.6 L479.9,486.4 L475.7,498.3" stroke-width="2.9"/><path d="M479.1,479.6 L489.3,477.9 L491.0,481.3" stroke-width="2.5"/>
</g>
<rect x="270" y="444.5" width="35" height="30" fill="none" stroke="#2a2a2c" stroke-width="2.6"/>
<path d="M272,441 L455,249 M306,472.5 L562,399.5" stroke="#f4f4f4" stroke-width="1.1" fill="none"/>
<g clip-path="url(#circ)">
<rect x="440" y="190" width="210" height="29.4" fill="#e3dcc2"/>
<rect x="440" y="219.4" width="210" height="9.2" fill="#c0c2c6"/>
<rect x="440" y="228.6" width="210" height="137.8" fill="#7a7a7a"/>
<rect x="440" y="366.4" width="210" height="10.5" fill="#c0c2c6"/>
<rect x="440" y="376.9" width="210" height="25" fill="#e3dcc2"/>
<rect x="440" y="286.6" width="210" height="13" fill="#2a2a2c"/>
<rect x="440" y="288.6" width="210" height="9" fill="#f7f7f7"/>
<rect x="475.1" y="294.3" width="1" height="1" fill="#8a8a8a"/><rect x="572.4" y="292.9" width="1" height="1" fill="#8a8a8a"/><rect x="485.7" y="295.0" width="1" height="1" fill="#8a8a8a"/><rect x="608.2" y="293.1" width="1" height="1" fill="#8a8a8a"/><rect x="545.6" y="291.2" width="1" height="1" fill="#8a8a8a"/><rect x="441.7" y="292.1" width="1" height="1" fill="#8a8a8a"/><rect x="562.2" y="290.0" width="1" height="1" fill="#8a8a8a"/><rect x="605.3" y="291.1" width="1" height="1" fill="#8a8a8a"/><rect x="489.2" y="289.8" width="1" height="1" fill="#8a8a8a"/><rect x="647.5" y="294.7" width="1" height="1" fill="#8a8a8a"/><rect x="622.1" y="293.8" width="1" height="1" fill="#8a8a8a"/><rect x="448.1" y="291.8" width="1" height="1" fill="#8a8a8a"/><rect x="544.0" y="290.3" width="1" height="1" fill="#8a8a8a"/><rect x="638.1" y="292.1" width="1" height="1" fill="#8a8a8a"/><rect x="473.0" y="295.2" width="1" height="1" fill="#8a8a8a"/><rect x="466.8" y="296.0" width="1" height="1" fill="#8a8a8a"/><rect x="534.8" y="293.4" width="1" height="1" fill="#8a8a8a"/><rect x="512.0" y="292.9" width="1" height="1" fill="#8a8a8a"/><rect x="479.7" y="289.8" width="1" height="1" fill="#8a8a8a"/><rect x="620.2" y="291.1" width="1" height="1" fill="#8a8a8a"/><rect x="602.5" y="291.0" width="1" height="1" fill="#8a8a8a"/><rect x="641.5" y="295.8" width="1" height="1" fill="#8a8a8a"/><rect x="597.2" y="294.8" width="1" height="1" fill="#8a8a8a"/><rect x="561.2" y="294.6" width="1" height="1" fill="#8a8a8a"/><rect x="466.4" y="292.8" width="1" height="1" fill="#8a8a8a"/><rect x="612.2" y="290.9" width="1" height="1" fill="#8a8a8a"/><rect x="632.1" y="295.7" width="1" height="1" fill="#8a8a8a"/><rect x="525.8" y="292.1" width="1" height="1" fill="#8a8a8a"/><rect x="534.4" y="292.2" width="1" height="1" fill="#8a8a8a"/><rect x="646.9" y="292.2" width="1" height="1" fill="#8a8a8a"/><rect x="446.6" y="290.2" width="1" height="1" fill="#8a8a8a"/><rect x="589.6" y="296.4" width="1" height="1" fill="#8a8a8a"/><rect x="543.7" y="292.9" width="1" height="1" fill="#8a8a8a"/><rect x="554.9" y="294.7" width="1" height="1" fill="#8a8a8a"/><rect x="487.0" y="293.8" width="1" height="1" fill="#8a8a8a"/><rect x="556.2" y="293.9" width="1" height="1" fill="#8a8a8a"/><rect x="478.4" y="290.7" width="1" height="1" fill="#8a8a8a"/><rect x="513.1" y="296.0" width="1" height="1" fill="#8a8a8a"/><rect x="512.7" y="293.7" width="1" height="1" fill="#8a8a8a"/><rect x="504.5" y="290.2" width="1" height="1" fill="#8a8a8a"/><rect x="454.6" y="295.2" width="1" height="1" fill="#8a8a8a"/><rect x="601.8" y="292.1" width="1" height="1" fill="#8a8a8a"/><rect x="582.5" y="294.2" width="1" height="1" fill="#8a8a8a"/><rect x="627.0" y="296.2" width="1" height="1" fill="#8a8a8a"/><rect x="525.3" y="296.4" width="1" height="1" fill="#8a8a8a"/><rect x="640.0" y="293.6" width="1" height="1" fill="#8a8a8a"/><rect x="623.8" y="292.9" width="1" height="1" fill="#8a8a8a"/><rect x="518.7" y="291.2" width="1" height="1" fill="#8a8a8a"/><rect x="622.4" y="290.6" width="1" height="1" fill="#8a8a8a"/><rect x="455.4" y="295.1" width="1" height="1" fill="#8a8a8a"/><rect x="601.2" y="292.9" width="1" height="1" fill="#8a8a8a"/><rect x="614.3" y="289.9" width="1" height="1" fill="#8a8a8a"/><rect x="494.4" y="291.5" width="1" height="1" fill="#8a8a8a"/><rect x="527.8" y="290.7" width="1" height="1" fill="#8a8a8a"/><rect x="455.4" y="291.9" width="1" height="1" fill="#8a8a8a"/><rect x="627.1" y="296.4" width="1" height="1" fill="#8a8a8a"/><rect x="595.4" y="292.9" width="1" height="1" fill="#8a8a8a"/><rect x="493.2" y="296.2" width="1" height="1" fill="#8a8a8a"/><rect x="549.8" y="294.6" width="1" height="1" fill="#8a8a8a"/><rect x="446.9" y="291.0" width="1" height="1" fill="#8a8a8a"/><rect x="614.5" y="295.1" width="1" height="1" fill="#8a8a8a"/><rect x="623.5" y="293.7" width="1" height="1" fill="#8a8a8a"/><rect x="529.2" y="293.6" width="1" height="1" fill="#8a8a8a"/><rect x="616.8" y="291.7" width="1" height="1" fill="#8a8a8a"/><rect x="551.6" y="291.4" width="1" height="1" fill="#8a8a8a"/><rect x="600.0" y="289.6" width="1" height="1" fill="#8a8a8a"/><rect x="582.9" y="296.2" width="1" height="1" fill="#8a8a8a"/><rect x="445.9" y="293.7" width="1" height="1" fill="#8a8a8a"/><rect x="574.3" y="295.5" width="1" height="1" fill="#8a8a8a"/><rect x="562.0" y="291.3" width="1" height="1" fill="#8a8a8a"/>
<g fill="none" stroke="#f7f7f7" stroke-linecap="round" stroke-linejoin="round">
<path d="M470.6,293.0 L470.0,290.0 L465.2,285.6 L460.4,274.8 L461.6,264.0 L460.4,248.4" stroke-width="3.4"/><path d="M461.6,264.0 L465.2,260.4 L471.8,248.4" stroke-width="2.9"/><path d="M464.0,280.8 L457.0,279.0 L448.4,277.2" stroke-width="2.9"/><path d="M470.6,292.0 L470.0,288.0 L476.0,280.8 L477.2,266.4 L482.6,259.2" stroke-width="3.4"/><path d="M476.0,280.8 L488.0,282.0 L492.8,274.8" stroke-width="2.9"/><path d="M470.0,296.0 L465.8,303.2 L449.6,309.2 L448.4,312.2" stroke-width="3.4"/><path d="M467.6,300.8 L463.4,314.0 L456.8,324.8 L455.6,329.6 L458.0,335.6" stroke-width="3.4"/><path d="M471.2,296.0 L471.2,300.8 L479.6,309.2 L486.8,304.4 L489.8,309.2" stroke-width="3.4"/><path d="M479.6,309.2 L485.6,316.4" stroke-width="2.9"/><path d="M463.4,314.0 L474.8,317.0 L480.8,322.4" stroke-width="2.9"/><path d="M474.8,317.0 L471.2,322.4" stroke-width="2.9"/><path d="M459.2,322.4 L468.8,330.8 L468.8,340.4" stroke-width="2.9"/>
<path d="M505.0,264.4 L512.2,264.4 L518.2,267.4 L521.8,271.0 L525.4,278.2 L530.2,284.2 L535.0,287.8 L536.5,292.0" stroke-width="3.4"/><path d="M521.8,270.5 L527.8,260.8 L534.4,253.0" stroke-width="2.9"/><path d="M534.4,253.0 L531.4,241.6" stroke-width="2.9"/><path d="M534.4,253.0 L541.6,249.4" stroke-width="2.9"/><path d="M533.2,248.2 L535.6,243.4" stroke-width="2.9"/><path d="M527.8,260.8 L523.0,253.6" stroke-width="2.9"/><path d="M529.0,280.6 L539.8,271.0 L539.8,266.2 L536.8,263.8 L537.4,259.0" stroke-width="3.4"/><path d="M534.4,275.6 L530.8,275.6" stroke-width="2.9"/><path d="M535.0,285.4 L544.6,278.2 L551.8,273.4 L555.4,273.4" stroke-width="3.4"/><path d="M544.6,278.2 L547.6,271.0 L551.2,263.8" stroke-width="2.9"/><path d="M537.4,285.4 L545.8,283.0 L553.0,283.0 L559.0,280.0" stroke-width="3.4"/><path d="M523.0,276.4 L516.4,276.4" stroke-width="2.9"/><path d="M536.8,292.0 L537.4,303.2 L535.0,309.2 L532.6,317.6 L529.0,326.0 L526.6,329.6 L519.4,333.2" stroke-width="3.4"/><path d="M526.6,329.6 L528.4,340.4" stroke-width="2.9"/><path d="M534.4,311.0 L524.2,314.0 L515.8,315.2" stroke-width="2.9"/><path d="M526.6,314.6 L523.0,321.2 L518.8,325.4" stroke-width="2.9"/><path d="M533.8,306.8 L527.2,308.0" stroke-width="2.9"/><path d="M537.5,296.0 L538.6,302.0 L542.2,309.2 L542.2,320.0 L541.6,329.6 L541.0,336.8" stroke-width="3.4"/><path d="M542.2,309.2 L550.6,320.0 L557.8,326.0" stroke-width="2.9"/><path d="M541.6,329.6 L549.4,336.2" stroke-width="2.9"/><path d="M532.6,317.6 L537.4,324.8" stroke-width="2.9"/>
<path d="M607.6,292.0 L605.2,286.6 L598.0,279.4 L592.0,272.2 L583.6,277.6" stroke-width="3.4"/><path d="M608.5,292.0 L611.2,286.6 L616.0,275.8 L619.6,268.6 L622.0,262.6 L620.8,256.6" stroke-width="3.4"/><path d="M619.6,268.6 L614.8,263.2 L608.8,253.0 L607.6,243.4" stroke-width="3.4"/><path d="M599.2,278.2 L606.4,271.0 L602.8,259.0" stroke-width="2.9"/><path d="M606.4,271.0 L595.6,266.8" stroke-width="2.9"/><path d="M609.5,289.0 L613.6,284.2 L620.8,279.4 L627.4,277.0" stroke-width="3.4"/><path d="M607.6,293.0 L607.6,297.2 L604.0,308.0 L602.8,324.8 L606.4,329.6 L602.8,338.0" stroke-width="3.4"/><path d="M604.0,306.8 L590.8,308.6 L580.0,305.6" stroke-width="2.9"/><path d="M590.8,308.6 L583.6,317.6" stroke-width="2.9"/><path d="M599.2,309.2 L594.4,316.4" stroke-width="2.9"/><path d="M607.6,303.2 L612.4,310.4 L612.4,322.4 L617.8,327.2" stroke-width="3.4"/><path d="M612.4,310.4 L614.8,308.0 L619.0,314.0" stroke-width="2.9"/>
</g>
</g>
<circle cx="544.5" cy="296" r="100.5" fill="none" stroke="#f9f9f9" stroke-width="6.5"/>
</svg></body></html>
